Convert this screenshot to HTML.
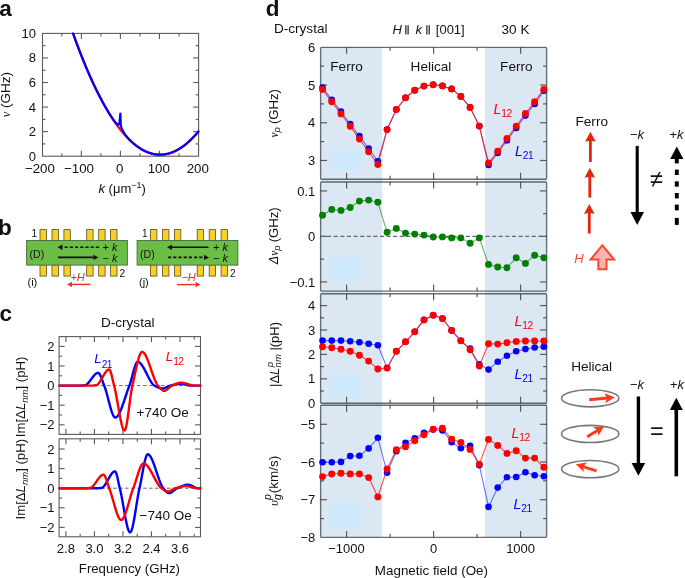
<!DOCTYPE html>
<html><head><meta charset="utf-8"><style>
html,body{margin:0;padding:0;background:#fff;}
svg{display:block;will-change:transform;font-family:"Liberation Sans", sans-serif;}
</style></head><body>
<svg width="685" height="578" viewBox="0 0 685 578">
<rect width="685" height="578" fill="#fff"/>
<text x="-0.8" y="16" font-size="22.5" text-anchor="start" fill="#111" font-weight="bold">a</text>
<text x="-1.9" y="235" font-size="22.5" text-anchor="start" fill="#111" font-weight="bold">b</text>
<text x="-0.5" y="321" font-size="22.5" text-anchor="start" fill="#111" font-weight="bold">c</text>
<text x="265.8" y="16" font-size="22.5" text-anchor="start" fill="#111" font-weight="bold">d</text>
<rect x="42.5" y="33.4" width="156.1" height="122.8" fill="none" stroke="#5a5a5a" stroke-width="1.1" />
<line x1="61.83" y1="156.2" x2="61.83" y2="153.2" stroke="#5a5a5a" stroke-width="1.1" />
<line x1="61.83" y1="33.4" x2="61.83" y2="36.4" stroke="#5a5a5a" stroke-width="1.1" />
<line x1="81.35" y1="156.2" x2="81.35" y2="150.7" stroke="#5a5a5a" stroke-width="1.1" />
<line x1="81.35" y1="33.4" x2="81.35" y2="38.9" stroke="#5a5a5a" stroke-width="1.1" />
<line x1="100.88" y1="156.2" x2="100.88" y2="153.2" stroke="#5a5a5a" stroke-width="1.1" />
<line x1="100.88" y1="33.4" x2="100.88" y2="36.4" stroke="#5a5a5a" stroke-width="1.1" />
<line x1="120.4" y1="156.2" x2="120.4" y2="150.7" stroke="#5a5a5a" stroke-width="1.1" />
<line x1="120.4" y1="33.4" x2="120.4" y2="38.9" stroke="#5a5a5a" stroke-width="1.1" />
<line x1="139.93" y1="156.2" x2="139.93" y2="153.2" stroke="#5a5a5a" stroke-width="1.1" />
<line x1="139.93" y1="33.4" x2="139.93" y2="36.4" stroke="#5a5a5a" stroke-width="1.1" />
<line x1="159.45" y1="156.2" x2="159.45" y2="150.7" stroke="#5a5a5a" stroke-width="1.1" />
<line x1="159.45" y1="33.4" x2="159.45" y2="38.9" stroke="#5a5a5a" stroke-width="1.1" />
<line x1="178.98" y1="156.2" x2="178.98" y2="153.2" stroke="#5a5a5a" stroke-width="1.1" />
<line x1="178.98" y1="33.4" x2="178.98" y2="36.4" stroke="#5a5a5a" stroke-width="1.1" />
<line x1="42.5" y1="143.92" x2="45.5" y2="143.92" stroke="#5a5a5a" stroke-width="1.1" />
<line x1="198.6" y1="143.92" x2="195.6" y2="143.92" stroke="#5a5a5a" stroke-width="1.1" />
<line x1="42.5" y1="131.64" x2="48" y2="131.64" stroke="#5a5a5a" stroke-width="1.1" />
<line x1="198.6" y1="131.64" x2="193.1" y2="131.64" stroke="#5a5a5a" stroke-width="1.1" />
<line x1="42.5" y1="119.36" x2="45.5" y2="119.36" stroke="#5a5a5a" stroke-width="1.1" />
<line x1="198.6" y1="119.36" x2="195.6" y2="119.36" stroke="#5a5a5a" stroke-width="1.1" />
<line x1="42.5" y1="107.08" x2="48" y2="107.08" stroke="#5a5a5a" stroke-width="1.1" />
<line x1="198.6" y1="107.08" x2="193.1" y2="107.08" stroke="#5a5a5a" stroke-width="1.1" />
<line x1="42.5" y1="94.8" x2="45.5" y2="94.8" stroke="#5a5a5a" stroke-width="1.1" />
<line x1="198.6" y1="94.8" x2="195.6" y2="94.8" stroke="#5a5a5a" stroke-width="1.1" />
<line x1="42.5" y1="82.52" x2="48" y2="82.52" stroke="#5a5a5a" stroke-width="1.1" />
<line x1="198.6" y1="82.52" x2="193.1" y2="82.52" stroke="#5a5a5a" stroke-width="1.1" />
<line x1="42.5" y1="70.24" x2="45.5" y2="70.24" stroke="#5a5a5a" stroke-width="1.1" />
<line x1="198.6" y1="70.24" x2="195.6" y2="70.24" stroke="#5a5a5a" stroke-width="1.1" />
<line x1="42.5" y1="57.96" x2="48" y2="57.96" stroke="#5a5a5a" stroke-width="1.1" />
<line x1="198.6" y1="57.96" x2="193.1" y2="57.96" stroke="#5a5a5a" stroke-width="1.1" />
<line x1="42.5" y1="45.68" x2="45.5" y2="45.68" stroke="#5a5a5a" stroke-width="1.1" />
<line x1="198.6" y1="45.68" x2="195.6" y2="45.68" stroke="#5a5a5a" stroke-width="1.1" />
<text x="36" y="160.7" font-size="13" text-anchor="end" fill="#111" >0</text>
<text x="36" y="136.14" font-size="13" text-anchor="end" fill="#111" >2</text>
<text x="36" y="111.58" font-size="13" text-anchor="end" fill="#111" >4</text>
<text x="36" y="87.02" font-size="13" text-anchor="end" fill="#111" >6</text>
<text x="36" y="62.46" font-size="13" text-anchor="end" fill="#111" >8</text>
<text x="36" y="37.9" font-size="13" text-anchor="end" fill="#111" >10</text>
<text x="39.9" y="173" font-size="13.3" text-anchor="middle" fill="#111" >&#8722;200</text>
<text x="78.95" y="173" font-size="13.3" text-anchor="middle" fill="#111" >&#8722;100</text>
<text x="119.7" y="173" font-size="13.3" text-anchor="middle" fill="#111" >0</text>
<text x="158.75" y="173" font-size="13.3" text-anchor="middle" fill="#111" >100</text>
<text x="197.8" y="173" font-size="13.3" text-anchor="middle" fill="#111" >200</text>
<text x="98.5" y="192.6" font-size="13" fill="#111"><tspan font-style="italic">k</tspan> (&#956;m<tspan font-size="9" dy="-5">&#8722;1</tspan><tspan dy="5">)</tspan></text>
<text transform="translate(9.6,94.6) rotate(-90)" font-size="13.5" fill="#111" text-anchor="middle"><tspan font-family="Liberation Serif" font-style="italic" font-size="12.5">&#957;</tspan> (GHz)</text>
<path d="M73.1,33.56 L73.52,34.74 L73.94,35.9 L74.36,37.06 L74.78,38.21 L75.2,39.36 L75.61,40.5 L76.03,41.64 L76.45,42.77 L76.87,43.89 L77.29,45.01 L77.71,46.13 L78.13,47.23 L78.55,48.34 L78.97,49.43 L79.39,50.52 L79.81,51.61 L80.22,52.69 L80.64,53.76 L81.06,54.83 L81.48,55.89 L81.9,56.95 L82.32,58 L82.74,59.04 L83.16,60.08 L83.58,61.11 L84,62.14 L84.41,63.16 L84.83,64.18 L85.25,65.19 L85.67,66.19 L86.09,67.19 L86.51,68.18 L86.93,69.17 L87.35,70.15 L87.77,71.13 L88.19,72.1 L88.61,73.06 L89.02,74.02 L89.44,74.98 L89.86,75.92 L90.28,76.86 L90.7,77.8 L91.12,78.73 L91.54,79.66 L91.96,80.57 L92.38,81.49 L92.8,82.39 L93.22,83.3 L93.63,84.19 L94.05,85.08 L94.47,85.97 L94.89,86.85 L95.31,87.72 L95.73,88.59 L96.15,89.45 L96.57,90.3 L96.99,91.16 L97.41,92 L97.82,92.84 L98.24,93.67 L98.66,94.5 L99.08,95.32 L99.5,96.14 L99.92,96.95 L100.34,97.75 L100.76,98.55 L101.18,99.35 L101.6,100.13 L102.02,100.92 L102.43,101.69 L102.85,102.46 L103.27,103.23 L103.69,103.99 L104.11,104.74 L104.53,105.49 L104.95,106.23 L105.37,106.97 L105.79,107.7 L106.21,108.42 L106.63,109.14 L107.04,109.86 L107.46,110.57 L107.88,111.27 L108.3,111.97 L108.72,112.66 L109.14,113.34 L109.56,114.02 L109.98,114.7 L110.4,115.36 L110.82,116.03 L111.23,116.68 L111.65,117.34 L112.07,117.98 L112.49,118.62 L112.91,119.26 L113.33,119.89 L113.75,120.51 L114.17,121.13 L114.59,121.74 L115.01,122.34 L115.43,122.95 L115.84,123.54 L116.26,124.13 L116.68,124.71 L117.1,125.29 L117.52,125.86 L117.94,126.43 L118.36,126.99 L118.78,127.55 L119.2,128.1 L119.62,128.64 L120.04,129.18 L120.45,129.71 L120.87,130.24 L121.29,130.76 L121.71,131.28 L122.13,131.79 L122.55,132.29 L122.97,132.79 L123.39,133.28 L123.81,133.77 L124.23,134.25 L124.64,134.73 L125.06,135.2 L125.48,135.66 L125.9,136.12 L126.32,136.58 L126.74,137.02 L127.16,137.47 L127.58,137.9 L128,138.33 L128.42,138.76 L128.84,139.18 L129.25,139.59 L129.67,140 L130.09,140.41 L130.51,140.8 L130.93,141.2 L131.35,141.58 L131.77,141.96 L132.19,142.34 L132.61,142.71 L133.03,143.07 L133.45,143.43 L133.86,143.78 L134.28,144.13 L134.7,144.47 L135.12,144.8 L135.54,145.13 L135.96,145.46 L136.38,145.78 L136.8,146.09 L137.22,146.4 L137.64,146.7 L138.05,147 L138.47,147.29 L138.89,147.57 L139.31,147.85 L139.73,148.12 L140.15,148.39 L140.57,148.65 L140.99,148.91 L141.41,149.16 L141.83,149.41 L142.25,149.65 L142.66,149.88 L143.08,150.11 L143.5,150.34 L143.92,150.55 L144.34,150.77 L144.76,150.97 L145.18,151.17 L145.6,151.37 L146.02,151.56 L146.44,151.74 L146.86,151.92 L147.27,152.09 L147.69,152.26 L148.11,152.42 L148.53,152.58 L148.95,152.73 L149.37,152.87 L149.79,153.01 L150.21,153.15 L150.63,153.28 L151.05,153.4 L151.46,153.51 L151.88,153.63 L152.3,153.73 L152.72,153.83 L153.14,153.93 L153.56,154.02 L153.98,154.1 L154.4,154.18 L154.82,154.25 L155.24,154.32 L155.66,154.38 L156.07,154.43 L156.49,154.48 L156.91,154.53 L157.33,154.57 L157.75,154.6 L158.17,154.63 L158.59,154.65 L159.01,154.67 L159.43,154.68 L159.85,154.68 L160.27,154.68 L160.68,154.68 L161.1,154.67 L161.52,154.65 L161.94,154.63 L162.36,154.6 L162.78,154.57 L163.2,154.53 L163.62,154.48 L164.04,154.43 L164.46,154.38 L164.87,154.31 L165.29,154.25 L165.71,154.18 L166.13,154.1 L166.55,154.01 L166.97,153.92 L167.39,153.83 L167.81,153.73 L168.23,153.62 L168.65,153.51 L169.07,153.4 L169.48,153.27 L169.9,153.15 L170.32,153.01 L170.74,152.87 L171.16,152.73 L171.58,152.58 L172,152.42 L172.42,152.26 L172.84,152.1 L173.26,151.92 L173.68,151.74 L174.09,151.56 L174.51,151.37 L174.93,151.18 L175.35,150.98 L175.77,150.77 L176.19,150.56 L176.61,150.34 L177.03,150.12 L177.45,149.9 L177.87,149.66 L178.28,149.42 L178.7,149.18 L179.12,148.93 L179.54,148.67 L179.96,148.41 L180.38,148.15 L180.8,147.87 L181.22,147.6 L181.64,147.31 L182.06,147.03 L182.48,146.73 L182.89,146.43 L183.31,146.13 L183.73,145.82 L184.15,145.5 L184.57,145.18 L184.99,144.85 L185.41,144.52 L185.83,144.18 L186.25,143.84 L186.67,143.49 L187.09,143.13 L187.5,142.77 L187.92,142.41 L188.34,142.04 L188.76,141.66 L189.18,141.28 L189.6,140.89 L190.02,140.5 L190.44,140.1 L190.86,139.69 L191.28,139.28 L191.69,138.87 L192.11,138.45 L192.53,138.02 L192.95,137.59 L193.37,137.15 L193.79,136.71 L194.21,136.26 L194.63,135.81 L195.05,135.35 L195.47,134.88 L195.89,134.41 L196.3,133.94 L196.72,133.45 L197.14,132.97 L197.56,132.48 L197.98,131.98 L198.4,131.47" fill="none" stroke="#ff0000" stroke-width="2.25" stroke-linejoin="round" stroke-linecap="round" />
<path d="M73.1,33.56 L73.33,34.2 L73.55,34.83 L73.78,35.47 L74.01,36.1 L74.24,36.72 L74.46,37.35 L74.69,37.98 L74.92,38.6 L75.14,39.22 L75.37,39.84 L75.6,40.46 L75.83,41.08 L76.05,41.69 L76.28,42.3 L76.51,42.92 L76.73,43.53 L76.96,44.13 L77.19,44.74 L77.42,45.35 L77.64,45.95 L77.87,46.55 L78.1,47.15 L78.32,47.75 L78.55,48.35 L78.78,48.94 L79.01,49.53 L79.23,50.13 L79.46,50.71 L79.69,51.3 L79.91,51.89 L80.14,52.47 L80.37,53.06 L80.6,53.64 L80.82,54.22 L81.05,54.8 L81.28,55.37 L81.5,55.95 L81.73,56.52 L81.96,57.09 L82.19,57.66 L82.41,58.23 L82.64,58.79 L82.87,59.36 L83.09,59.92 L83.32,60.48 L83.55,61.04 L83.78,61.6 L84,62.16 L84.23,62.71 L84.46,63.26 L84.68,63.81 L84.91,64.36 L85.14,64.91 L85.37,65.46 L85.59,66 L85.82,66.54 L86.05,67.09 L86.27,67.63 L86.5,68.16 L86.73,68.7 L86.96,69.23 L87.18,69.77 L87.41,70.3 L87.64,70.83 L87.86,71.35 L88.09,71.88 L88.32,72.4 L88.55,72.93 L88.77,73.45 L89,73.97 L89.23,74.48 L89.45,75 L89.68,75.51 L89.91,76.03 L90.14,76.54 L90.36,77.05 L90.59,77.55 L90.82,78.06 L91.04,78.56 L91.27,79.06 L91.5,79.57 L91.73,80.06 L91.95,80.56 L92.18,81.06 L92.41,81.55 L92.63,82.04 L92.86,82.53 L93.09,83.02 L93.32,83.51 L93.54,84 L93.77,84.48 L94,84.96 L94.22,85.44 L94.45,85.92 L94.68,86.4 L94.91,86.87 L95.13,87.35 L95.36,87.82 L95.59,88.29 L95.81,88.76 L96.04,89.23 L96.27,89.69 L96.49,90.16 L96.72,90.62 L96.95,91.08 L97.18,91.54 L97.4,92 L97.63,92.45 L97.86,92.9 L98.08,93.36 L98.31,93.81 L98.54,94.26 L98.77,94.7 L98.99,95.15 L99.22,95.59 L99.45,96.03 L99.67,96.47 L99.9,96.91 L100.13,97.35 L100.36,97.79 L100.58,98.22 L100.81,98.65 L101.04,99.08 L101.26,99.51 L101.49,99.94 L101.72,100.36 L101.95,100.79 L102.17,101.21 L102.4,101.63 L102.63,102.05 L102.85,102.46 L103.08,102.88 L103.31,103.29 L103.54,103.7 L103.76,104.11 L103.99,104.52 L104.22,104.93 L104.44,105.33 L104.67,105.74 L104.9,106.14 L105.13,106.54 L105.35,106.94 L105.58,107.33 L105.81,107.73 L106.03,108.12 L106.26,108.51 L106.49,108.9 L106.72,109.29 L106.94,109.67 L107.17,110.06 L107.4,110.44 L107.62,110.82 L107.85,111.2 L108.08,111.57 L108.31,111.95 L108.53,112.32 L108.76,112.69 L108.99,113.06 L109.21,113.43 L109.44,113.79 L109.67,114.15 L109.9,114.51 L110.12,114.87 L110.35,115.23 L110.58,115.58 L110.8,115.93 L111.03,116.28 L111.26,116.62 L111.49,116.97 L111.71,117.31 L111.94,117.65 L112.17,117.98 L112.39,118.31 L112.62,118.64 L112.85,118.96 L113.08,119.28 L113.3,119.6 L113.53,119.91 L113.76,120.22 L113.98,120.52 L114.21,120.82 L114.44,121.11 L114.67,121.39 L114.89,121.67 L115.12,121.94 L115.35,122.21 L115.57,122.46 L115.8,122.71 L116.03,122.95 L116.26,123.17 L116.48,123.39 L116.71,123.59 L116.94,123.77 L117.16,123.94 L117.39,124.1 L117.62,124.24 L117.85,124.35 L118.07,124.44 L118.3,124.51 L119.4,123.6 L120,118.5 L120.35,113.6 L120.5,118.5 L120.7,123 L120.9,125.85 L121.21,126.76 L121.52,127.6 L121.83,128.38 L122.14,129.12 L122.46,129.81 L122.77,130.46 L123.08,131.07 L123.39,131.65 L123.7,132.21 L124.01,132.73 L124.32,133.24 L124.63,133.72 L124.95,134.19 L125.26,134.64 L125.57,135.07 L125.88,135.5 L126.19,135.9 L126.5,136.3 L126.81,136.69 L127.12,137.06 L127.44,137.43 L127.75,137.79 L128.06,138.15 L128.37,138.49 L128.68,138.83 L128.99,139.16 L129.3,139.49 L129.61,139.81 L129.93,140.13 L130.24,140.44 L130.55,140.75 L130.86,141.05 L131.17,141.34 L131.48,141.64 L131.79,141.93 L132.1,142.21 L132.42,142.49 L132.73,142.77 L133.04,143.05 L133.35,143.32 L133.66,143.58 L133.97,143.85 L134.28,144.11 L134.59,144.36 L134.91,144.62 L135.22,144.87 L135.53,145.11 L135.84,145.35 L136.15,145.59 L136.46,145.83 L136.77,146.06 L137.08,146.29 L137.4,146.52 L137.71,146.74 L138.02,146.96 L138.33,147.18 L138.64,147.4 L138.95,147.61 L139.26,147.82 L139.57,148.02 L139.89,148.22 L140.2,148.42 L140.51,148.62 L140.82,148.81 L141.13,149 L141.44,149.18 L141.75,149.37 L142.06,149.54 L142.38,149.72 L142.69,149.89 L143,150.07 L143.31,150.23 L143.62,150.4 L143.93,150.56 L144.24,150.72 L144.55,150.87 L144.87,151.02 L145.18,151.17 L145.49,151.32 L145.8,151.46 L146.11,151.6 L146.42,151.74 L146.73,151.87 L147.04,152 L147.36,152.13 L147.67,152.25 L147.98,152.37 L148.29,152.49 L148.6,152.6 L148.91,152.72 L149.22,152.82 L149.53,152.93 L149.85,153.03 L150.16,153.13 L150.47,153.23 L150.78,153.32 L151.09,153.41 L151.4,153.5 L151.71,153.58 L152.02,153.66 L152.34,153.74 L152.65,153.81 L152.96,153.89 L153.27,153.95 L153.58,154.02 L153.89,154.08 L154.2,154.14 L154.51,154.2 L154.83,154.25 L155.14,154.3 L155.45,154.35 L155.76,154.39 L156.07,154.43 L156.38,154.47 L156.69,154.51 L157,154.54 L157.32,154.57 L157.63,154.59 L157.94,154.61 L158.25,154.63 L158.56,154.65 L158.87,154.66 L159.18,154.67 L159.49,154.68 L159.81,154.68 L160.12,154.68 L160.43,154.68 L160.74,154.68 L161.05,154.67 L161.36,154.66 L161.67,154.64 L161.98,154.62 L162.3,154.6 L162.61,154.58 L162.92,154.55 L163.23,154.52 L163.54,154.49 L163.85,154.45 L164.16,154.42 L164.47,154.37 L164.79,154.33 L165.1,154.28 L165.41,154.23 L165.72,154.17 L166.03,154.12 L166.34,154.06 L166.65,153.99 L166.96,153.93 L167.28,153.86 L167.59,153.78 L167.9,153.71 L168.21,153.63 L168.52,153.55 L168.83,153.46 L169.14,153.37 L169.45,153.28 L169.77,153.19 L170.08,153.09 L170.39,152.99 L170.7,152.89 L171.01,152.78 L171.32,152.67 L171.63,152.56 L171.94,152.44 L172.26,152.33 L172.57,152.2 L172.88,152.08 L173.19,151.95 L173.5,151.82 L173.81,151.69 L174.12,151.55 L174.43,151.41 L174.75,151.27 L175.06,151.12 L175.37,150.97 L175.68,150.82 L175.99,150.66 L176.3,150.5 L176.61,150.34 L176.92,150.18 L177.24,150.01 L177.55,149.84 L177.86,149.67 L178.17,149.49 L178.48,149.31 L178.79,149.13 L179.1,148.94 L179.41,148.75 L179.73,148.56 L180.04,148.37 L180.35,148.17 L180.66,147.97 L180.97,147.76 L181.28,147.55 L181.59,147.34 L181.9,147.13 L182.22,146.91 L182.53,146.7 L182.84,146.47 L183.15,146.25 L183.46,146.02 L183.77,145.79 L184.08,145.55 L184.39,145.32 L184.71,145.07 L185.02,144.83 L185.33,144.58 L185.64,144.33 L185.95,144.08 L186.26,143.83 L186.57,143.57 L186.88,143.3 L187.2,143.04 L187.51,142.77 L187.82,142.5 L188.13,142.23 L188.44,141.95 L188.75,141.67 L189.06,141.38 L189.37,141.1 L189.69,140.81 L190,140.52 L190.31,140.22 L190.62,139.92 L190.93,139.62 L191.24,139.32 L191.55,139.01 L191.86,138.7 L192.18,138.38 L192.49,138.07 L192.8,137.75 L193.11,137.43 L193.42,137.1 L193.73,136.77 L194.04,136.44 L194.35,136.1 L194.67,135.77 L194.98,135.43 L195.29,135.08 L195.6,134.73 L195.91,134.38 L196.22,134.03 L196.53,133.67 L196.84,133.32 L197.16,132.95 L197.47,132.59 L197.78,132.22 L198.09,131.85 L198.4,131.47" fill="none" stroke="#0000ff" stroke-width="2.25" stroke-linejoin="round" stroke-linecap="round" />
<rect x="40" y="229.6" width="6.4" height="11" fill="#f6d024" stroke="#5a4a20" stroke-width="0.8" />
<rect x="40" y="264.9" width="6.4" height="11.2" fill="#f6d024" stroke="#5a4a20" stroke-width="0.8" />
<rect x="52" y="229.6" width="6.4" height="11" fill="#f6d024" stroke="#5a4a20" stroke-width="0.8" />
<rect x="52" y="264.9" width="6.4" height="11.2" fill="#f6d024" stroke="#5a4a20" stroke-width="0.8" />
<rect x="63.9" y="229.6" width="6.4" height="11" fill="#f6d024" stroke="#5a4a20" stroke-width="0.8" />
<rect x="63.9" y="264.9" width="6.4" height="11.2" fill="#f6d024" stroke="#5a4a20" stroke-width="0.8" />
<rect x="86.7" y="229.6" width="6.4" height="11" fill="#f6d024" stroke="#5a4a20" stroke-width="0.8" />
<rect x="86.7" y="264.9" width="6.4" height="11.2" fill="#f6d024" stroke="#5a4a20" stroke-width="0.8" />
<rect x="98.7" y="229.6" width="6.4" height="11" fill="#f6d024" stroke="#5a4a20" stroke-width="0.8" />
<rect x="98.7" y="264.9" width="6.4" height="11.2" fill="#f6d024" stroke="#5a4a20" stroke-width="0.8" />
<rect x="110.6" y="229.6" width="6.4" height="11" fill="#f6d024" stroke="#5a4a20" stroke-width="0.8" />
<rect x="110.6" y="264.9" width="6.4" height="11.2" fill="#f6d024" stroke="#5a4a20" stroke-width="0.8" />
<rect x="26.6" y="240.5" width="100.8" height="24.6" fill="#6bbd45" stroke="#4a6a40" stroke-width="0.9" />
<text x="29.6" y="257.6" font-size="10.6" text-anchor="start" fill="#111" >(D)</text>
<text x="31.6" y="237.2" font-size="10" text-anchor="start" fill="#111" >1</text>
<text x="119.5" y="277" font-size="10" text-anchor="start" fill="#111" >2</text>
<rect x="150.5" y="229.6" width="6.4" height="11" fill="#f6d024" stroke="#5a4a20" stroke-width="0.8" />
<rect x="150.5" y="264.9" width="6.4" height="11.2" fill="#f6d024" stroke="#5a4a20" stroke-width="0.8" />
<rect x="162.5" y="229.6" width="6.4" height="11" fill="#f6d024" stroke="#5a4a20" stroke-width="0.8" />
<rect x="162.5" y="264.9" width="6.4" height="11.2" fill="#f6d024" stroke="#5a4a20" stroke-width="0.8" />
<rect x="174.4" y="229.6" width="6.4" height="11" fill="#f6d024" stroke="#5a4a20" stroke-width="0.8" />
<rect x="174.4" y="264.9" width="6.4" height="11.2" fill="#f6d024" stroke="#5a4a20" stroke-width="0.8" />
<rect x="197.2" y="229.6" width="6.4" height="11" fill="#f6d024" stroke="#5a4a20" stroke-width="0.8" />
<rect x="197.2" y="264.9" width="6.4" height="11.2" fill="#f6d024" stroke="#5a4a20" stroke-width="0.8" />
<rect x="209.2" y="229.6" width="6.4" height="11" fill="#f6d024" stroke="#5a4a20" stroke-width="0.8" />
<rect x="209.2" y="264.9" width="6.4" height="11.2" fill="#f6d024" stroke="#5a4a20" stroke-width="0.8" />
<rect x="221.1" y="229.6" width="6.4" height="11" fill="#f6d024" stroke="#5a4a20" stroke-width="0.8" />
<rect x="221.1" y="264.9" width="6.4" height="11.2" fill="#f6d024" stroke="#5a4a20" stroke-width="0.8" />
<rect x="137.1" y="240.5" width="100.8" height="24.6" fill="#6bbd45" stroke="#4a6a40" stroke-width="0.9" />
<text x="140.1" y="257.6" font-size="10.6" text-anchor="start" fill="#111" >(D)</text>
<text x="142.1" y="237.2" font-size="10" text-anchor="start" fill="#111" >1</text>
<text x="230" y="277" font-size="10" text-anchor="start" fill="#111" >2</text>
<line x1="99" y1="247.3" x2="62.5" y2="247.3" stroke="#111" stroke-width="1.6" stroke-dasharray="3.2,2"/>
<path d="M57.5,247.3 L62.5,244.6 L62.5,250 Z" fill="#111"/>
<line x1="58" y1="257.4" x2="93.5" y2="257.4" stroke="#111" stroke-width="1.6" />
<path d="M98.5,257.4 L93.5,254.7 L93.5,260.1 Z" fill="#111"/>
<line x1="208.5" y1="247.3" x2="172" y2="247.3" stroke="#111" stroke-width="1.6" />
<path d="M167,247.3 L172,244.6 L172,250 Z" fill="#111"/>
<line x1="168" y1="257.4" x2="204" y2="257.4" stroke="#111" stroke-width="1.6" stroke-dasharray="3.2,2"/>
<path d="M209,257.4 L204,254.7 L204,260.1 Z" fill="#111"/>
<text x="102.6" y="251.3" font-size="11" fill="#111">+ <tspan font-style="italic">k</tspan></text>
<text x="102.6" y="261.5" font-size="11" fill="#111">&#8722; <tspan font-style="italic">k</tspan></text>
<text x="213.1" y="251.3" font-size="11" fill="#111">+ <tspan font-style="italic">k</tspan></text>
<text x="213.1" y="261.5" font-size="11" fill="#111">&#8722; <tspan font-style="italic">k</tspan></text>
<text x="27.5" y="285.5" font-size="11" text-anchor="start" fill="#111" >(i)</text>
<text x="139" y="285.5" font-size="11" text-anchor="start" fill="#111" >(j)</text>
<text x="70.4" y="281.4" font-size="11" fill="#d42a36" font-style="italic">+H</text>
<text x="181.4" y="281.4" font-size="11" fill="#d42a36" font-style="italic">&#8722;H</text>
<line x1="90.5" y1="284.4" x2="72" y2="284.4" stroke="#e0321e" stroke-width="1.4" />
<path d="M67,284.4 L72,281.8 L72,287 Z" fill="#e0321e"/>
<line x1="177" y1="284.6" x2="195.5" y2="284.6" stroke="#e0321e" stroke-width="1.4" />
<path d="M200.5,284.6 L195.5,282 L195.5,287.2 Z" fill="#e0321e"/>
<text x="100.9" y="326.5" font-size="13.6" text-anchor="start" fill="#111" >D-crystal</text>
<rect x="59.1" y="336.6" width="141.4" height="97.8" fill="none" stroke="#5a5a5a" stroke-width="1.1" />
<line x1="59.1" y1="385.6" x2="200.5" y2="385.6" stroke="#666" stroke-width="1" stroke-dasharray="3.5,2.5"/>
<line x1="59.1" y1="424.8" x2="64.6" y2="424.8" stroke="#5a5a5a" stroke-width="1.1" />
<line x1="200.5" y1="424.8" x2="195" y2="424.8" stroke="#5a5a5a" stroke-width="1.1" />
<line x1="59.1" y1="415" x2="62.1" y2="415" stroke="#5a5a5a" stroke-width="1.1" />
<line x1="200.5" y1="415" x2="197.5" y2="415" stroke="#5a5a5a" stroke-width="1.1" />
<line x1="59.1" y1="405.2" x2="64.6" y2="405.2" stroke="#5a5a5a" stroke-width="1.1" />
<line x1="200.5" y1="405.2" x2="195" y2="405.2" stroke="#5a5a5a" stroke-width="1.1" />
<line x1="59.1" y1="395.4" x2="62.1" y2="395.4" stroke="#5a5a5a" stroke-width="1.1" />
<line x1="200.5" y1="395.4" x2="197.5" y2="395.4" stroke="#5a5a5a" stroke-width="1.1" />
<line x1="59.1" y1="385.6" x2="64.6" y2="385.6" stroke="#5a5a5a" stroke-width="1.1" />
<line x1="200.5" y1="385.6" x2="195" y2="385.6" stroke="#5a5a5a" stroke-width="1.1" />
<line x1="59.1" y1="375.8" x2="62.1" y2="375.8" stroke="#5a5a5a" stroke-width="1.1" />
<line x1="200.5" y1="375.8" x2="197.5" y2="375.8" stroke="#5a5a5a" stroke-width="1.1" />
<line x1="59.1" y1="366" x2="64.6" y2="366" stroke="#5a5a5a" stroke-width="1.1" />
<line x1="200.5" y1="366" x2="195" y2="366" stroke="#5a5a5a" stroke-width="1.1" />
<line x1="59.1" y1="356.2" x2="62.1" y2="356.2" stroke="#5a5a5a" stroke-width="1.1" />
<line x1="200.5" y1="356.2" x2="197.5" y2="356.2" stroke="#5a5a5a" stroke-width="1.1" />
<line x1="59.1" y1="346.4" x2="64.6" y2="346.4" stroke="#5a5a5a" stroke-width="1.1" />
<line x1="200.5" y1="346.4" x2="195" y2="346.4" stroke="#5a5a5a" stroke-width="1.1" />
<text x="54.6" y="350.9" font-size="13" text-anchor="end" fill="#111" >2</text>
<text x="54.6" y="370.5" font-size="13" text-anchor="end" fill="#111" >1</text>
<text x="54.6" y="390.1" font-size="13" text-anchor="end" fill="#111" >0</text>
<text x="54.6" y="409.7" font-size="13" text-anchor="end" fill="#111" >&#8722;1</text>
<text x="54.6" y="429.3" font-size="13" text-anchor="end" fill="#111" >&#8722;2</text>
<line x1="65.9" y1="434.4" x2="65.9" y2="428.9" stroke="#5a5a5a" stroke-width="1.1" />
<line x1="65.9" y1="336.6" x2="65.9" y2="342.1" stroke="#5a5a5a" stroke-width="1.1" />
<line x1="80.16" y1="434.4" x2="80.16" y2="431.4" stroke="#5a5a5a" stroke-width="1.1" />
<line x1="80.16" y1="336.6" x2="80.16" y2="339.6" stroke="#5a5a5a" stroke-width="1.1" />
<line x1="94.42" y1="434.4" x2="94.42" y2="428.9" stroke="#5a5a5a" stroke-width="1.1" />
<line x1="94.42" y1="336.6" x2="94.42" y2="342.1" stroke="#5a5a5a" stroke-width="1.1" />
<line x1="108.68" y1="434.4" x2="108.68" y2="431.4" stroke="#5a5a5a" stroke-width="1.1" />
<line x1="108.68" y1="336.6" x2="108.68" y2="339.6" stroke="#5a5a5a" stroke-width="1.1" />
<line x1="122.94" y1="434.4" x2="122.94" y2="428.9" stroke="#5a5a5a" stroke-width="1.1" />
<line x1="122.94" y1="336.6" x2="122.94" y2="342.1" stroke="#5a5a5a" stroke-width="1.1" />
<line x1="137.2" y1="434.4" x2="137.2" y2="431.4" stroke="#5a5a5a" stroke-width="1.1" />
<line x1="137.2" y1="336.6" x2="137.2" y2="339.6" stroke="#5a5a5a" stroke-width="1.1" />
<line x1="151.46" y1="434.4" x2="151.46" y2="428.9" stroke="#5a5a5a" stroke-width="1.1" />
<line x1="151.46" y1="336.6" x2="151.46" y2="342.1" stroke="#5a5a5a" stroke-width="1.1" />
<line x1="165.72" y1="434.4" x2="165.72" y2="431.4" stroke="#5a5a5a" stroke-width="1.1" />
<line x1="165.72" y1="336.6" x2="165.72" y2="339.6" stroke="#5a5a5a" stroke-width="1.1" />
<line x1="179.98" y1="434.4" x2="179.98" y2="428.9" stroke="#5a5a5a" stroke-width="1.1" />
<line x1="179.98" y1="336.6" x2="179.98" y2="342.1" stroke="#5a5a5a" stroke-width="1.1" />
<line x1="194.24" y1="434.4" x2="194.24" y2="431.4" stroke="#5a5a5a" stroke-width="1.1" />
<line x1="194.24" y1="336.6" x2="194.24" y2="339.6" stroke="#5a5a5a" stroke-width="1.1" />
<text x="136.6" y="417.1" font-size="13.5" text-anchor="start" fill="#111" >+740 Oe</text>
<rect x="59.1" y="438.8" width="141.4" height="98" fill="none" stroke="#5a5a5a" stroke-width="1.1" />
<line x1="59.1" y1="488.2" x2="200.5" y2="488.2" stroke="#666" stroke-width="1" stroke-dasharray="3.5,2.5"/>
<line x1="59.1" y1="527.4" x2="64.6" y2="527.4" stroke="#5a5a5a" stroke-width="1.1" />
<line x1="200.5" y1="527.4" x2="195" y2="527.4" stroke="#5a5a5a" stroke-width="1.1" />
<line x1="59.1" y1="517.6" x2="62.1" y2="517.6" stroke="#5a5a5a" stroke-width="1.1" />
<line x1="200.5" y1="517.6" x2="197.5" y2="517.6" stroke="#5a5a5a" stroke-width="1.1" />
<line x1="59.1" y1="507.8" x2="64.6" y2="507.8" stroke="#5a5a5a" stroke-width="1.1" />
<line x1="200.5" y1="507.8" x2="195" y2="507.8" stroke="#5a5a5a" stroke-width="1.1" />
<line x1="59.1" y1="498" x2="62.1" y2="498" stroke="#5a5a5a" stroke-width="1.1" />
<line x1="200.5" y1="498" x2="197.5" y2="498" stroke="#5a5a5a" stroke-width="1.1" />
<line x1="59.1" y1="488.2" x2="64.6" y2="488.2" stroke="#5a5a5a" stroke-width="1.1" />
<line x1="200.5" y1="488.2" x2="195" y2="488.2" stroke="#5a5a5a" stroke-width="1.1" />
<line x1="59.1" y1="478.4" x2="62.1" y2="478.4" stroke="#5a5a5a" stroke-width="1.1" />
<line x1="200.5" y1="478.4" x2="197.5" y2="478.4" stroke="#5a5a5a" stroke-width="1.1" />
<line x1="59.1" y1="468.6" x2="64.6" y2="468.6" stroke="#5a5a5a" stroke-width="1.1" />
<line x1="200.5" y1="468.6" x2="195" y2="468.6" stroke="#5a5a5a" stroke-width="1.1" />
<line x1="59.1" y1="458.8" x2="62.1" y2="458.8" stroke="#5a5a5a" stroke-width="1.1" />
<line x1="200.5" y1="458.8" x2="197.5" y2="458.8" stroke="#5a5a5a" stroke-width="1.1" />
<line x1="59.1" y1="449" x2="64.6" y2="449" stroke="#5a5a5a" stroke-width="1.1" />
<line x1="200.5" y1="449" x2="195" y2="449" stroke="#5a5a5a" stroke-width="1.1" />
<text x="54.6" y="453.5" font-size="13" text-anchor="end" fill="#111" >2</text>
<text x="54.6" y="473.1" font-size="13" text-anchor="end" fill="#111" >1</text>
<text x="54.6" y="492.7" font-size="13" text-anchor="end" fill="#111" >0</text>
<text x="54.6" y="512.3" font-size="13" text-anchor="end" fill="#111" >&#8722;1</text>
<text x="54.6" y="531.9" font-size="13" text-anchor="end" fill="#111" >&#8722;2</text>
<line x1="65.9" y1="536.8" x2="65.9" y2="531.3" stroke="#5a5a5a" stroke-width="1.1" />
<line x1="65.9" y1="438.8" x2="65.9" y2="444.3" stroke="#5a5a5a" stroke-width="1.1" />
<line x1="80.16" y1="536.8" x2="80.16" y2="533.8" stroke="#5a5a5a" stroke-width="1.1" />
<line x1="80.16" y1="438.8" x2="80.16" y2="441.8" stroke="#5a5a5a" stroke-width="1.1" />
<line x1="94.42" y1="536.8" x2="94.42" y2="531.3" stroke="#5a5a5a" stroke-width="1.1" />
<line x1="94.42" y1="438.8" x2="94.42" y2="444.3" stroke="#5a5a5a" stroke-width="1.1" />
<line x1="108.68" y1="536.8" x2="108.68" y2="533.8" stroke="#5a5a5a" stroke-width="1.1" />
<line x1="108.68" y1="438.8" x2="108.68" y2="441.8" stroke="#5a5a5a" stroke-width="1.1" />
<line x1="122.94" y1="536.8" x2="122.94" y2="531.3" stroke="#5a5a5a" stroke-width="1.1" />
<line x1="122.94" y1="438.8" x2="122.94" y2="444.3" stroke="#5a5a5a" stroke-width="1.1" />
<line x1="137.2" y1="536.8" x2="137.2" y2="533.8" stroke="#5a5a5a" stroke-width="1.1" />
<line x1="137.2" y1="438.8" x2="137.2" y2="441.8" stroke="#5a5a5a" stroke-width="1.1" />
<line x1="151.46" y1="536.8" x2="151.46" y2="531.3" stroke="#5a5a5a" stroke-width="1.1" />
<line x1="151.46" y1="438.8" x2="151.46" y2="444.3" stroke="#5a5a5a" stroke-width="1.1" />
<line x1="165.72" y1="536.8" x2="165.72" y2="533.8" stroke="#5a5a5a" stroke-width="1.1" />
<line x1="165.72" y1="438.8" x2="165.72" y2="441.8" stroke="#5a5a5a" stroke-width="1.1" />
<line x1="179.98" y1="536.8" x2="179.98" y2="531.3" stroke="#5a5a5a" stroke-width="1.1" />
<line x1="179.98" y1="438.8" x2="179.98" y2="444.3" stroke="#5a5a5a" stroke-width="1.1" />
<line x1="194.24" y1="536.8" x2="194.24" y2="533.8" stroke="#5a5a5a" stroke-width="1.1" />
<line x1="194.24" y1="438.8" x2="194.24" y2="441.8" stroke="#5a5a5a" stroke-width="1.1" />
<text x="139.6" y="519.7" font-size="13.5" text-anchor="start" fill="#111" >&#8722;740 Oe</text>
<path d="M59.6,385.6 L59.88,385.6 L60.16,385.6 L60.45,385.6 L60.73,385.6 L61.01,385.6 L61.29,385.6 L61.57,385.6 L61.86,385.6 L62.14,385.6 L62.42,385.6 L62.7,385.6 L62.98,385.6 L63.27,385.6 L63.55,385.6 L63.83,385.6 L64.11,385.6 L64.39,385.6 L64.68,385.6 L64.96,385.6 L65.24,385.6 L65.52,385.6 L65.8,385.6 L66.09,385.6 L66.37,385.6 L66.65,385.6 L66.93,385.6 L67.21,385.6 L67.49,385.6 L67.78,385.6 L68.06,385.6 L68.34,385.6 L68.62,385.6 L68.9,385.6 L69.19,385.6 L69.47,385.6 L69.75,385.6 L70.03,385.6 L70.31,385.6 L70.6,385.6 L70.88,385.6 L71.16,385.6 L71.44,385.6 L71.72,385.6 L72.01,385.6 L72.29,385.6 L72.57,385.6 L72.85,385.6 L73.13,385.6 L73.42,385.6 L73.7,385.6 L73.98,385.6 L74.26,385.6 L74.54,385.6 L74.83,385.6 L75.11,385.6 L75.39,385.6 L75.67,385.6 L75.95,385.6 L76.24,385.6 L76.52,385.6 L76.8,385.6 L77.08,385.6 L77.36,385.6 L77.65,385.6 L77.93,385.6 L78.21,385.6 L78.49,385.6 L78.77,385.6 L79.06,385.6 L79.34,385.6 L79.62,385.6 L79.9,385.6 L80.18,385.6 L80.47,385.6 L80.75,385.59 L81.03,385.59 L81.31,385.58 L81.59,385.57 L81.88,385.56 L82.16,385.55 L82.44,385.53 L82.72,385.52 L83,385.5 L83.28,385.49 L83.57,385.47 L83.85,385.45 L84.13,385.43 L84.41,385.41 L84.69,385.38 L84.98,385.33 L85.26,385.24 L85.54,385.13 L85.82,385 L86.1,384.84 L86.39,384.65 L86.67,384.45 L86.95,384.22 L87.23,383.98 L87.51,383.72 L87.8,383.44 L88.08,383.14 L88.36,382.83 L88.64,382.51 L88.92,382.18 L89.21,381.83 L89.49,381.48 L89.77,381.12 L90.05,380.75 L90.33,380.38 L90.62,380 L90.9,379.62 L91.18,379.24 L91.46,378.86 L91.74,378.48 L92.03,378.1 L92.31,377.72 L92.59,377.35 L92.87,376.99 L93.15,376.63 L93.44,376.28 L93.72,375.94 L94,375.61 L94.28,375.29 L94.56,374.99 L94.85,374.7 L95.13,374.43 L95.41,374.18 L95.69,373.94 L95.97,373.72 L96.26,373.53 L96.54,373.36 L96.82,373.21 L97.1,373.08 L97.38,372.99 L97.67,372.91 L97.95,372.87 L98.23,372.86 L98.51,372.92 L98.79,373.08 L99.07,373.33 L99.36,373.66 L99.64,374.08 L99.92,374.56 L100.2,375.1 L100.48,375.7 L100.77,376.35 L101.05,377.04 L101.33,377.77 L101.61,378.52 L101.89,379.3 L102.18,380.09 L102.46,380.89 L102.74,381.69 L103.02,382.49 L103.3,383.27 L103.59,384.04 L103.87,384.77 L104.15,385.48 L104.43,386.18 L104.71,386.93 L105,387.72 L105.28,388.56 L105.56,389.44 L105.84,390.36 L106.12,391.31 L106.41,392.29 L106.69,393.3 L106.97,394.33 L107.25,395.38 L107.53,396.44 L107.82,397.52 L108.1,398.6 L108.38,399.69 L108.66,400.78 L108.94,401.86 L109.23,402.94 L109.51,404.01 L109.79,405.06 L110.07,406.1 L110.35,407.11 L110.64,408.1 L110.92,409.06 L111.2,409.99 L111.48,410.88 L111.76,411.73 L112.05,412.54 L112.33,413.3 L112.61,414.02 L112.89,414.67 L113.17,415.27 L113.46,415.81 L113.74,416.28 L114.02,416.68 L114.3,417.02 L114.58,417.27 L114.86,417.44 L115.15,417.53 L115.43,417.54 L115.71,417.5 L115.99,417.41 L116.27,417.27 L116.56,417.09 L116.84,416.87 L117.12,416.61 L117.4,416.31 L117.68,415.97 L117.97,415.6 L118.25,415.19 L118.53,414.74 L118.81,414.27 L119.09,413.76 L119.38,413.22 L119.66,412.65 L119.94,412.06 L120.22,411.44 L120.5,410.8 L120.79,410.13 L121.07,409.44 L121.35,408.73 L121.63,408 L121.91,407.26 L122.2,406.5 L122.48,405.72 L122.76,404.93 L123.04,404.12 L123.32,403.31 L123.61,402.48 L123.89,401.65 L124.17,400.81 L124.45,399.96 L124.73,399.11 L125.02,398.26 L125.3,397.4 L125.58,396.55 L125.86,395.69 L126.14,394.84 L126.43,393.99 L126.71,393.15 L126.99,392.31 L127.27,391.48 L127.55,390.66 L127.84,389.85 L128.12,389.05 L128.4,388.27 L128.68,387.49 L128.96,386.74 L129.25,386 L129.53,385.27 L129.81,384.49 L130.09,383.65 L130.37,382.76 L130.65,381.83 L130.94,380.86 L131.22,379.85 L131.5,378.82 L131.78,377.77 L132.06,376.7 L132.35,375.63 L132.63,374.55 L132.91,373.48 L133.19,372.41 L133.47,371.37 L133.76,370.35 L134.04,369.35 L134.32,368.4 L134.6,367.48 L134.88,366.61 L135.17,365.79 L135.45,365.04 L135.73,364.35 L136.01,363.73 L136.29,363.19 L136.58,362.73 L136.86,362.37 L137.14,362.1 L137.42,361.94 L137.7,361.88 L137.99,361.9 L138.27,361.95 L138.55,362.04 L138.83,362.15 L139.11,362.3 L139.4,362.48 L139.68,362.68 L139.96,362.91 L140.24,363.17 L140.52,363.45 L140.81,363.76 L141.09,364.09 L141.37,364.44 L141.65,364.81 L141.93,365.2 L142.22,365.61 L142.5,366.04 L142.78,366.49 L143.06,366.95 L143.34,367.42 L143.63,367.91 L143.91,368.41 L144.19,368.92 L144.47,369.44 L144.75,369.97 L145.04,370.51 L145.32,371.05 L145.6,371.6 L145.88,372.15 L146.16,372.71 L146.44,373.27 L146.73,373.83 L147.01,374.39 L147.29,374.95 L147.57,375.51 L147.85,376.07 L148.14,376.62 L148.42,377.16 L148.7,377.7 L148.98,378.24 L149.26,378.76 L149.55,379.27 L149.83,379.78 L150.11,380.27 L150.39,380.75 L150.67,381.21 L150.96,381.66 L151.24,382.1 L151.52,382.52 L151.8,382.92 L152.08,383.29 L152.37,383.65 L152.65,383.99 L152.93,384.31 L153.21,384.6 L153.49,384.87 L153.78,385.11 L154.06,385.32 L154.34,385.51 L154.62,385.67 L154.9,385.82 L155.19,385.98 L155.47,386.13 L155.75,386.28 L156.03,386.44 L156.31,386.59 L156.6,386.73 L156.88,386.88 L157.16,387.02 L157.44,387.16 L157.72,387.29 L158.01,387.42 L158.29,387.54 L158.57,387.66 L158.85,387.78 L159.13,387.88 L159.42,387.98 L159.7,388.08 L159.98,388.16 L160.26,388.24 L160.54,388.31 L160.83,388.37 L161.11,388.43 L161.39,388.47 L161.67,388.5 L161.95,388.53 L162.23,388.54 L162.52,388.54 L162.8,388.52 L163.08,388.49 L163.36,388.45 L163.64,388.39 L163.93,388.31 L164.21,388.23 L164.49,388.13 L164.77,388.03 L165.05,387.92 L165.34,387.8 L165.62,387.67 L165.9,387.54 L166.18,387.4 L166.46,387.26 L166.75,387.12 L167.03,386.98 L167.31,386.84 L167.59,386.7 L167.87,386.56 L168.16,386.42 L168.44,386.29 L168.72,386.17 L169,386.05 L169.28,385.94 L169.57,385.84 L169.85,385.75 L170.13,385.67 L170.41,385.6 L170.69,385.53 L170.98,385.47 L171.26,385.41 L171.54,385.34 L171.82,385.28 L172.1,385.22 L172.39,385.15 L172.67,385.09 L172.95,385.03 L173.23,384.97 L173.51,384.9 L173.8,384.84 L174.08,384.79 L174.36,384.73 L174.64,384.67 L174.92,384.62 L175.21,384.56 L175.49,384.51 L175.77,384.46 L176.05,384.41 L176.33,384.36 L176.62,384.31 L176.9,384.27 L177.18,384.23 L177.46,384.19 L177.74,384.15 L178.02,384.12 L178.31,384.09 L178.59,384.06 L178.87,384.03 L179.15,384.01 L179.43,383.99 L179.72,383.97 L180,383.96 L180.28,383.95 L180.56,383.94 L180.84,383.93 L181.13,383.93 L181.41,383.94 L181.69,383.95 L181.97,383.97 L182.25,384 L182.54,384.03 L182.82,384.07 L183.1,384.11 L183.38,384.15 L183.66,384.2 L183.95,384.25 L184.23,384.31 L184.51,384.37 L184.79,384.43 L185.07,384.49 L185.36,384.56 L185.64,384.62 L185.92,384.69 L186.2,384.76 L186.48,384.82 L186.77,384.89 L187.05,384.96 L187.33,385.02 L187.61,385.08 L187.89,385.15 L188.18,385.2 L188.46,385.26 L188.74,385.32 L189.02,385.37 L189.3,385.41 L189.59,385.45 L189.87,385.49 L190.15,385.52 L190.43,385.55 L190.71,385.57 L191,385.59 L191.28,385.6 L191.56,385.6 L191.84,385.6 L192.12,385.6 L192.41,385.6 L192.69,385.6 L192.97,385.6 L193.25,385.6 L193.53,385.6 L193.81,385.6 L194.1,385.6 L194.38,385.6 L194.66,385.6 L194.94,385.6 L195.22,385.6 L195.51,385.6 L195.79,385.6 L196.07,385.6 L196.35,385.6 L196.63,385.6 L196.92,385.6 L197.2,385.6 L197.48,385.6 L197.76,385.6 L198.04,385.6 L198.33,385.6 L198.61,385.6 L198.89,385.6 L199.17,385.6 L199.45,385.6 L199.74,385.6 L200.02,385.6 L200.3,385.6" fill="none" stroke="#0000ff" stroke-width="2.4" stroke-linejoin="round" stroke-linecap="round" />
<path d="M59.6,385.6 L59.88,385.6 L60.16,385.6 L60.45,385.6 L60.73,385.6 L61.01,385.6 L61.29,385.6 L61.57,385.6 L61.86,385.6 L62.14,385.6 L62.42,385.6 L62.7,385.6 L62.98,385.6 L63.27,385.6 L63.55,385.6 L63.83,385.6 L64.11,385.6 L64.39,385.6 L64.68,385.6 L64.96,385.6 L65.24,385.6 L65.52,385.6 L65.8,385.6 L66.09,385.6 L66.37,385.6 L66.65,385.6 L66.93,385.6 L67.21,385.6 L67.49,385.6 L67.78,385.6 L68.06,385.6 L68.34,385.6 L68.62,385.6 L68.9,385.6 L69.19,385.6 L69.47,385.6 L69.75,385.6 L70.03,385.6 L70.31,385.6 L70.6,385.6 L70.88,385.6 L71.16,385.6 L71.44,385.6 L71.72,385.6 L72.01,385.6 L72.29,385.6 L72.57,385.6 L72.85,385.6 L73.13,385.6 L73.42,385.6 L73.7,385.6 L73.98,385.6 L74.26,385.6 L74.54,385.6 L74.83,385.6 L75.11,385.6 L75.39,385.6 L75.67,385.6 L75.95,385.6 L76.24,385.6 L76.52,385.6 L76.8,385.6 L77.08,385.6 L77.36,385.6 L77.65,385.6 L77.93,385.6 L78.21,385.6 L78.49,385.6 L78.77,385.6 L79.06,385.6 L79.34,385.6 L79.62,385.6 L79.9,385.6 L80.18,385.6 L80.47,385.6 L80.75,385.6 L81.03,385.6 L81.31,385.6 L81.59,385.6 L81.88,385.6 L82.16,385.6 L82.44,385.6 L82.72,385.6 L83,385.6 L83.28,385.6 L83.57,385.6 L83.85,385.6 L84.13,385.6 L84.41,385.6 L84.69,385.6 L84.98,385.6 L85.26,385.6 L85.54,385.6 L85.82,385.6 L86.1,385.6 L86.39,385.6 L86.67,385.6 L86.95,385.6 L87.23,385.6 L87.51,385.6 L87.8,385.6 L88.08,385.6 L88.36,385.6 L88.64,385.6 L88.92,385.6 L89.21,385.6 L89.49,385.6 L89.77,385.6 L90.05,385.6 L90.33,385.6 L90.62,385.6 L90.9,385.6 L91.18,385.6 L91.46,385.6 L91.74,385.6 L92.03,385.6 L92.31,385.6 L92.59,385.59 L92.87,385.58 L93.15,385.56 L93.44,385.54 L93.72,385.51 L94,385.48 L94.28,385.45 L94.56,385.42 L94.85,385.38 L95.13,385.34 L95.41,385.3 L95.69,385.26 L95.97,385.21 L96.26,385.15 L96.54,385.05 L96.82,384.92 L97.1,384.75 L97.38,384.55 L97.67,384.32 L97.95,384.06 L98.23,383.78 L98.51,383.46 L98.79,383.13 L99.07,382.77 L99.36,382.39 L99.64,381.99 L99.92,381.57 L100.2,381.14 L100.48,380.7 L100.77,380.24 L101.05,379.78 L101.33,379.3 L101.61,378.82 L101.89,378.34 L102.18,377.85 L102.46,377.36 L102.74,376.86 L103.02,376.37 L103.3,375.89 L103.59,375.41 L103.87,374.93 L104.15,374.47 L104.43,374.01 L104.71,373.57 L105,373.14 L105.28,372.73 L105.56,372.33 L105.84,371.96 L106.12,371.6 L106.41,371.26 L106.69,370.95 L106.97,370.67 L107.25,370.41 L107.53,370.19 L107.82,369.99 L108.1,369.82 L108.38,369.69 L108.66,369.6 L108.94,369.54 L109.23,369.53 L109.51,369.64 L109.79,369.94 L110.07,370.41 L110.35,371.02 L110.64,371.77 L110.92,372.63 L111.2,373.6 L111.48,374.65 L111.76,375.78 L112.05,376.95 L112.33,378.16 L112.61,379.4 L112.89,380.63 L113.17,381.86 L113.46,383.05 L113.74,384.21 L114.02,385.3 L114.3,386.36 L114.58,387.49 L114.86,388.7 L115.15,389.98 L115.43,391.32 L115.71,392.72 L115.99,394.16 L116.27,395.66 L116.56,397.19 L116.84,398.75 L117.12,400.34 L117.4,401.94 L117.68,403.57 L117.97,405.2 L118.25,406.82 L118.53,408.45 L118.81,410.06 L119.09,411.66 L119.38,413.23 L119.66,414.78 L119.94,416.28 L120.22,417.75 L120.5,419.17 L120.79,420.53 L121.07,421.83 L121.35,423.07 L121.63,424.23 L121.91,425.31 L122.2,426.31 L122.48,427.22 L122.76,428.02 L123.04,428.73 L123.32,429.32 L123.61,429.8 L123.89,430.16 L124.17,430.39 L124.45,430.48 L124.73,430.4 L125.02,430.07 L125.3,429.52 L125.58,428.75 L125.86,427.79 L126.14,426.64 L126.43,425.33 L126.71,423.86 L126.99,422.26 L127.27,420.53 L127.55,418.7 L127.84,416.78 L128.12,414.78 L128.4,412.71 L128.68,410.6 L128.96,408.46 L129.25,406.31 L129.53,404.15 L129.81,402.01 L130.09,399.89 L130.37,397.82 L130.65,395.81 L130.94,393.87 L131.22,392.03 L131.5,390.28 L131.78,388.66 L132.06,387.17 L132.35,385.83 L132.63,384.6 L132.91,383.34 L133.19,382.06 L133.47,380.76 L133.76,379.44 L134.04,378.12 L134.32,376.79 L134.6,375.45 L134.88,374.12 L135.17,372.79 L135.45,371.47 L135.73,370.16 L136.01,368.87 L136.29,367.6 L136.58,366.35 L136.86,365.12 L137.14,363.93 L137.42,362.77 L137.7,361.65 L137.99,360.57 L138.27,359.53 L138.55,358.55 L138.83,357.61 L139.11,356.74 L139.4,355.92 L139.68,355.17 L139.96,354.49 L140.24,353.87 L140.52,353.34 L140.81,352.88 L141.09,352.5 L141.37,352.21 L141.65,352.01 L141.93,351.91 L142.22,351.89 L142.5,351.94 L142.78,352.04 L143.06,352.18 L143.34,352.37 L143.63,352.61 L143.91,352.89 L144.19,353.21 L144.47,353.57 L144.75,353.97 L145.04,354.4 L145.32,354.87 L145.6,355.38 L145.88,355.92 L146.16,356.48 L146.44,357.08 L146.73,357.7 L147.01,358.34 L147.29,359.01 L147.57,359.71 L147.85,360.42 L148.14,361.15 L148.42,361.89 L148.7,362.66 L148.98,363.43 L149.26,364.22 L149.55,365.02 L149.83,365.83 L150.11,366.64 L150.39,367.46 L150.67,368.28 L150.96,369.11 L151.24,369.94 L151.52,370.76 L151.8,371.58 L152.08,372.4 L152.37,373.21 L152.65,374.01 L152.93,374.81 L153.21,375.59 L153.49,376.36 L153.78,377.12 L154.06,377.86 L154.34,378.58 L154.62,379.28 L154.9,379.96 L155.19,380.62 L155.47,381.26 L155.75,381.87 L156.03,382.45 L156.31,383 L156.6,383.52 L156.88,384.01 L157.16,384.46 L157.44,384.88 L157.72,385.26 L158.01,385.61 L158.29,385.93 L158.57,386.26 L158.85,386.6 L159.13,386.93 L159.42,387.27 L159.7,387.6 L159.98,387.92 L160.26,388.24 L160.54,388.55 L160.83,388.85 L161.11,389.14 L161.39,389.41 L161.67,389.67 L161.95,389.91 L162.23,390.12 L162.52,390.32 L162.8,390.48 L163.08,390.63 L163.36,390.74 L163.64,390.82 L163.93,390.88 L164.21,390.89 L164.49,390.88 L164.77,390.83 L165.05,390.76 L165.34,390.66 L165.62,390.53 L165.9,390.39 L166.18,390.23 L166.46,390.04 L166.75,389.84 L167.03,389.63 L167.31,389.41 L167.59,389.17 L167.87,388.93 L168.16,388.68 L168.44,388.43 L168.72,388.17 L169,387.91 L169.28,387.66 L169.57,387.41 L169.85,387.16 L170.13,386.92 L170.41,386.69 L170.69,386.47 L170.98,386.26 L171.26,386.07 L171.54,385.89 L171.82,385.73 L172.1,385.6 L172.39,385.47 L172.67,385.34 L172.95,385.22 L173.23,385.09 L173.51,384.96 L173.8,384.83 L174.08,384.7 L174.36,384.57 L174.64,384.44 L174.92,384.31 L175.21,384.19 L175.49,384.07 L175.77,383.95 L176.05,383.83 L176.33,383.72 L176.62,383.61 L176.9,383.5 L177.18,383.4 L177.46,383.31 L177.74,383.22 L178.02,383.13 L178.31,383.05 L178.59,382.98 L178.87,382.91 L179.15,382.85 L179.43,382.8 L179.72,382.76 L180,382.72 L180.28,382.69 L180.56,382.67 L180.84,382.66 L181.13,382.66 L181.41,382.67 L181.69,382.68 L181.97,382.7 L182.25,382.73 L182.54,382.76 L182.82,382.8 L183.1,382.84 L183.38,382.89 L183.66,382.94 L183.95,383 L184.23,383.06 L184.51,383.12 L184.79,383.19 L185.07,383.26 L185.36,383.34 L185.64,383.41 L185.92,383.49 L186.2,383.58 L186.48,383.66 L186.77,383.75 L187.05,383.83 L187.33,383.92 L187.61,384.01 L187.89,384.1 L188.18,384.19 L188.46,384.27 L188.74,384.36 L189.02,384.45 L189.3,384.54 L189.59,384.62 L189.87,384.7 L190.15,384.79 L190.43,384.87 L190.71,384.94 L191,385.02 L191.28,385.09 L191.56,385.15 L191.84,385.22 L192.12,385.28 L192.41,385.33 L192.69,385.39 L192.97,385.43 L193.25,385.47 L193.53,385.51 L193.81,385.54 L194.1,385.56 L194.38,385.58 L194.66,385.59 L194.94,385.6 L195.22,385.6 L195.51,385.6 L195.79,385.6 L196.07,385.6 L196.35,385.6 L196.63,385.6 L196.92,385.6 L197.2,385.6 L197.48,385.6 L197.76,385.6 L198.04,385.6 L198.33,385.6 L198.61,385.6 L198.89,385.6 L199.17,385.6 L199.45,385.6 L199.74,385.6 L200.02,385.6 L200.3,385.6" fill="none" stroke="#ff0000" stroke-width="2.4" stroke-linejoin="round" stroke-linecap="round" />
<path d="M59.6,488.2 L59.88,488.2 L60.16,488.2 L60.45,488.2 L60.73,488.2 L61.01,488.2 L61.29,488.2 L61.57,488.2 L61.86,488.2 L62.14,488.2 L62.42,488.2 L62.7,488.2 L62.98,488.2 L63.27,488.2 L63.55,488.2 L63.83,488.2 L64.11,488.2 L64.39,488.2 L64.68,488.2 L64.96,488.2 L65.24,488.2 L65.52,488.2 L65.8,488.2 L66.09,488.2 L66.37,488.2 L66.65,488.2 L66.93,488.2 L67.21,488.2 L67.49,488.2 L67.78,488.2 L68.06,488.2 L68.34,488.2 L68.62,488.2 L68.9,488.2 L69.19,488.2 L69.47,488.2 L69.75,488.2 L70.03,488.2 L70.31,488.2 L70.6,488.2 L70.88,488.2 L71.16,488.2 L71.44,488.2 L71.72,488.2 L72.01,488.2 L72.29,488.2 L72.57,488.2 L72.85,488.2 L73.13,488.2 L73.42,488.2 L73.7,488.2 L73.98,488.2 L74.26,488.2 L74.54,488.2 L74.83,488.2 L75.11,488.2 L75.39,488.2 L75.67,488.2 L75.95,488.2 L76.24,488.2 L76.52,488.2 L76.8,488.2 L77.08,488.2 L77.36,488.2 L77.65,488.2 L77.93,488.2 L78.21,488.2 L78.49,488.2 L78.77,488.2 L79.06,488.2 L79.34,488.2 L79.62,488.2 L79.9,488.2 L80.18,488.2 L80.47,488.2 L80.75,488.2 L81.03,488.2 L81.31,488.2 L81.59,488.2 L81.88,488.2 L82.16,488.2 L82.44,488.2 L82.72,488.2 L83,488.2 L83.28,488.2 L83.57,488.2 L83.85,488.2 L84.13,488.2 L84.41,488.2 L84.69,488.2 L84.98,488.2 L85.26,488.2 L85.54,488.2 L85.82,488.2 L86.1,488.2 L86.39,488.2 L86.67,488.2 L86.95,488.2 L87.23,488.2 L87.51,488.2 L87.8,488.2 L88.08,488.2 L88.36,488.2 L88.64,488.2 L88.92,488.2 L89.21,488.2 L89.49,488.2 L89.77,488.2 L90.05,488.2 L90.33,488.2 L90.62,488.2 L90.9,488.2 L91.18,488.2 L91.46,488.2 L91.74,488.2 L92.03,488.2 L92.31,488.2 L92.59,488.2 L92.87,488.2 L93.15,488.2 L93.44,488.2 L93.72,488.2 L94,488.2 L94.28,488.2 L94.56,488.2 L94.85,488.2 L95.13,488.2 L95.41,488.2 L95.69,488.2 L95.97,488.2 L96.26,488.2 L96.54,488.2 L96.82,488.2 L97.1,488.2 L97.38,488.2 L97.67,488.19 L97.95,488.19 L98.23,488.18 L98.51,488.17 L98.79,488.16 L99.07,488.14 L99.36,488.13 L99.64,488.11 L99.92,488.1 L100.2,488.08 L100.48,488.06 L100.77,488.04 L101.05,488.02 L101.33,487.99 L101.61,487.93 L101.89,487.83 L102.18,487.7 L102.46,487.53 L102.74,487.33 L103.02,487.1 L103.3,486.84 L103.59,486.56 L103.87,486.24 L104.15,485.9 L104.43,485.54 L104.71,485.16 L105,484.76 L105.28,484.34 L105.56,483.91 L105.84,483.46 L106.12,483 L106.41,482.52 L106.69,482.04 L106.97,481.55 L107.25,481.05 L107.53,480.55 L107.82,480.05 L108.1,479.54 L108.38,479.04 L108.66,478.54 L108.94,478.04 L109.23,477.55 L109.51,477.06 L109.79,476.58 L110.07,476.11 L110.35,475.66 L110.64,475.22 L110.92,474.79 L111.2,474.38 L111.48,473.99 L111.76,473.62 L112.05,473.27 L112.33,472.94 L112.61,472.64 L112.89,472.37 L113.17,472.13 L113.46,471.91 L113.74,471.73 L114.02,471.58 L114.3,471.47 L114.58,471.39 L114.86,471.35 L115.15,471.37 L115.43,471.59 L115.71,472 L115.99,472.59 L116.27,473.33 L116.56,474.21 L116.84,475.21 L117.12,476.31 L117.4,477.5 L117.68,478.74 L117.97,480.03 L118.25,481.35 L118.53,482.67 L118.81,483.98 L119.09,485.26 L119.38,486.49 L119.66,487.65 L119.94,488.74 L120.22,489.9 L120.5,491.12 L120.79,492.41 L121.07,493.76 L121.35,495.16 L121.63,496.61 L121.91,498.1 L122.2,499.63 L122.48,501.18 L122.76,502.76 L123.04,504.36 L123.32,505.97 L123.61,507.58 L123.89,509.19 L124.17,510.8 L124.45,512.39 L124.73,513.97 L125.02,515.52 L125.3,517.04 L125.58,518.52 L125.86,519.96 L126.14,521.35 L126.43,522.68 L126.71,523.96 L126.99,525.16 L127.27,526.3 L127.55,527.35 L127.84,528.32 L128.12,529.2 L128.4,529.98 L128.68,530.66 L128.96,531.23 L129.25,531.69 L129.53,532.02 L129.81,532.23 L130.09,532.3 L130.37,532.22 L130.65,531.99 L130.94,531.61 L131.22,531.09 L131.5,530.43 L131.78,529.64 L132.06,528.74 L132.35,527.73 L132.63,526.61 L132.91,525.4 L133.19,524.1 L133.47,522.72 L133.76,521.26 L134.04,519.74 L134.32,518.17 L134.6,516.54 L134.88,514.87 L135.17,513.17 L135.45,511.44 L135.73,509.69 L136.01,507.93 L136.29,506.16 L136.58,504.4 L136.86,502.65 L137.14,500.92 L137.42,499.21 L137.7,497.54 L137.99,495.91 L138.27,494.33 L138.55,492.81 L138.83,491.35 L139.11,489.97 L139.4,488.66 L139.68,487.41 L139.96,486.11 L140.24,484.75 L140.52,483.35 L140.81,481.9 L141.09,480.42 L141.37,478.92 L141.65,477.4 L141.93,475.86 L142.22,474.33 L142.5,472.79 L142.78,471.27 L143.06,469.77 L143.34,468.29 L143.63,466.85 L143.91,465.44 L144.19,464.09 L144.47,462.79 L144.75,461.56 L145.04,460.39 L145.32,459.31 L145.6,458.31 L145.88,457.4 L146.16,456.6 L146.44,455.9 L146.73,455.32 L147.01,454.86 L147.29,454.53 L147.57,454.34 L147.85,454.29 L148.14,454.33 L148.42,454.42 L148.7,454.56 L148.98,454.76 L149.26,455 L149.55,455.28 L149.83,455.61 L150.11,455.98 L150.39,456.4 L150.67,456.85 L150.96,457.34 L151.24,457.86 L151.52,458.42 L151.8,459.01 L152.08,459.63 L152.37,460.27 L152.65,460.95 L152.93,461.65 L153.21,462.37 L153.49,463.11 L153.78,463.87 L154.06,464.65 L154.34,465.44 L154.62,466.25 L154.9,467.06 L155.19,467.89 L155.47,468.73 L155.75,469.57 L156.03,470.42 L156.31,471.27 L156.6,472.13 L156.88,472.98 L157.16,473.83 L157.44,474.67 L157.72,475.51 L158.01,476.34 L158.29,477.17 L158.57,477.98 L158.85,478.77 L159.13,479.56 L159.42,480.32 L159.7,481.07 L159.98,481.8 L160.26,482.5 L160.54,483.18 L160.83,483.84 L161.11,484.46 L161.39,485.06 L161.67,485.63 L161.95,486.16 L162.23,486.66 L162.52,487.12 L162.8,487.55 L163.08,487.93 L163.36,488.27 L163.64,488.61 L163.93,488.95 L164.21,489.29 L164.49,489.64 L164.77,489.98 L165.05,490.31 L165.34,490.64 L165.62,490.96 L165.9,491.26 L166.18,491.55 L166.46,491.83 L166.75,492.08 L167.03,492.31 L167.31,492.52 L167.59,492.7 L167.87,492.85 L168.16,492.96 L168.44,493.05 L168.72,493.09 L169,493.1 L169.28,493.08 L169.57,493.03 L169.85,492.97 L170.13,492.89 L170.41,492.78 L170.69,492.66 L170.98,492.53 L171.26,492.38 L171.54,492.22 L171.82,492.04 L172.1,491.86 L172.39,491.66 L172.67,491.46 L172.95,491.25 L173.23,491.04 L173.51,490.82 L173.8,490.61 L174.08,490.39 L174.36,490.17 L174.64,489.95 L174.92,489.74 L175.21,489.53 L175.49,489.32 L175.77,489.13 L176.05,488.94 L176.33,488.76 L176.62,488.59 L176.9,488.44 L177.18,488.3 L177.46,488.17 L177.74,488.05 L178.02,487.93 L178.31,487.8 L178.59,487.68 L178.87,487.55 L179.15,487.42 L179.43,487.29 L179.72,487.17 L180,487.04 L180.28,486.91 L180.56,486.78 L180.84,486.66 L181.13,486.53 L181.41,486.41 L181.69,486.29 L181.97,486.17 L182.25,486.05 L182.54,485.94 L182.82,485.83 L183.1,485.72 L183.38,485.61 L183.66,485.51 L183.95,485.42 L184.23,485.33 L184.51,485.24 L184.79,485.16 L185.07,485.08 L185.36,485.01 L185.64,484.95 L185.92,484.89 L186.2,484.83 L186.48,484.79 L186.77,484.75 L187.05,484.72 L187.33,484.7 L187.61,484.68 L187.89,484.67 L188.18,484.68 L188.46,484.69 L188.74,484.73 L189.02,484.77 L189.3,484.84 L189.59,484.91 L189.87,485 L190.15,485.09 L190.43,485.2 L190.71,485.31 L191,485.43 L191.28,485.56 L191.56,485.69 L191.84,485.83 L192.12,485.98 L192.41,486.12 L192.69,486.27 L192.97,486.42 L193.25,486.57 L193.53,486.72 L193.81,486.86 L194.1,487.01 L194.38,487.15 L194.66,487.28 L194.94,487.41 L195.22,487.54 L195.51,487.65 L195.79,487.76 L196.07,487.86 L196.35,487.94 L196.63,488.02 L196.92,488.08 L197.2,488.14 L197.48,488.17 L197.76,488.19 L198.04,488.2 L198.33,488.2 L198.61,488.2 L198.89,488.2 L199.17,488.2 L199.45,488.2 L199.74,488.2 L200.02,488.2 L200.3,488.2" fill="none" stroke="#0000ff" stroke-width="2.4" stroke-linejoin="round" stroke-linecap="round" />
<path d="M59.6,488.2 L59.88,488.2 L60.16,488.2 L60.45,488.2 L60.73,488.2 L61.01,488.2 L61.29,488.2 L61.57,488.2 L61.86,488.2 L62.14,488.2 L62.42,488.2 L62.7,488.2 L62.98,488.2 L63.27,488.2 L63.55,488.2 L63.83,488.2 L64.11,488.2 L64.39,488.2 L64.68,488.2 L64.96,488.2 L65.24,488.2 L65.52,488.2 L65.8,488.2 L66.09,488.2 L66.37,488.2 L66.65,488.2 L66.93,488.2 L67.21,488.2 L67.49,488.2 L67.78,488.2 L68.06,488.2 L68.34,488.2 L68.62,488.2 L68.9,488.2 L69.19,488.2 L69.47,488.2 L69.75,488.2 L70.03,488.2 L70.31,488.2 L70.6,488.2 L70.88,488.2 L71.16,488.2 L71.44,488.2 L71.72,488.2 L72.01,488.2 L72.29,488.2 L72.57,488.2 L72.85,488.2 L73.13,488.2 L73.42,488.2 L73.7,488.2 L73.98,488.2 L74.26,488.2 L74.54,488.2 L74.83,488.2 L75.11,488.2 L75.39,488.2 L75.67,488.2 L75.95,488.2 L76.24,488.2 L76.52,488.2 L76.8,488.2 L77.08,488.2 L77.36,488.2 L77.65,488.2 L77.93,488.2 L78.21,488.2 L78.49,488.2 L78.77,488.2 L79.06,488.2 L79.34,488.2 L79.62,488.2 L79.9,488.2 L80.18,488.2 L80.47,488.2 L80.75,488.2 L81.03,488.2 L81.31,488.2 L81.59,488.2 L81.88,488.2 L82.16,488.2 L82.44,488.2 L82.72,488.2 L83,488.2 L83.28,488.2 L83.57,488.2 L83.85,488.2 L84.13,488.2 L84.41,488.2 L84.69,488.2 L84.98,488.2 L85.26,488.2 L85.54,488.2 L85.82,488.2 L86.1,488.2 L86.39,488.2 L86.67,488.19 L86.95,488.18 L87.23,488.17 L87.51,488.16 L87.8,488.15 L88.08,488.13 L88.36,488.11 L88.64,488.09 L88.92,488.07 L89.21,488.05 L89.49,488.03 L89.77,488.01 L90.05,487.97 L90.33,487.9 L90.62,487.81 L90.9,487.68 L91.18,487.53 L91.46,487.36 L91.74,487.16 L92.03,486.93 L92.31,486.69 L92.59,486.42 L92.87,486.14 L93.15,485.84 L93.44,485.52 L93.72,485.19 L94,484.85 L94.28,484.49 L94.56,484.12 L94.85,483.74 L95.13,483.36 L95.41,482.97 L95.69,482.57 L95.97,482.17 L96.26,481.76 L96.54,481.36 L96.82,480.95 L97.1,480.55 L97.38,480.15 L97.67,479.75 L97.95,479.36 L98.23,478.97 L98.51,478.59 L98.79,478.23 L99.07,477.87 L99.36,477.52 L99.64,477.19 L99.92,476.87 L100.2,476.57 L100.48,476.29 L100.77,476.02 L101.05,475.77 L101.33,475.55 L101.61,475.35 L101.89,475.17 L102.18,475.02 L102.46,474.89 L102.74,474.79 L103.02,474.72 L103.3,474.68 L103.59,474.68 L103.87,474.78 L104.15,475 L104.43,475.33 L104.71,475.75 L105,476.26 L105.28,476.85 L105.56,477.52 L105.84,478.24 L106.12,479.02 L106.41,479.83 L106.69,480.68 L106.97,481.56 L107.25,482.44 L107.53,483.33 L107.82,484.22 L108.1,485.1 L108.38,485.95 L108.66,486.76 L108.94,487.54 L109.23,488.26 L109.51,488.99 L109.79,489.75 L110.07,490.54 L110.35,491.37 L110.64,492.22 L110.92,493.1 L111.2,494 L111.48,494.93 L111.76,495.87 L112.05,496.83 L112.33,497.8 L112.61,498.78 L112.89,499.76 L113.17,500.76 L113.46,501.75 L113.74,502.75 L114.02,503.74 L114.3,504.73 L114.58,505.7 L114.86,506.67 L115.15,507.63 L115.43,508.57 L115.71,509.49 L115.99,510.38 L116.27,511.26 L116.56,512.11 L116.84,512.93 L117.12,513.71 L117.4,514.47 L117.68,515.18 L117.97,515.86 L118.25,516.5 L118.53,517.08 L118.81,517.63 L119.09,518.12 L119.38,518.56 L119.66,518.94 L119.94,519.27 L120.22,519.54 L120.5,519.74 L120.79,519.88 L121.07,519.94 L121.35,519.94 L121.63,519.87 L121.91,519.73 L122.2,519.53 L122.48,519.27 L122.76,518.95 L123.04,518.57 L123.32,518.13 L123.61,517.65 L123.89,517.12 L124.17,516.54 L124.45,515.91 L124.73,515.25 L125.02,514.54 L125.3,513.8 L125.58,513.03 L125.86,512.22 L126.14,511.39 L126.43,510.53 L126.71,509.64 L126.99,508.74 L127.27,507.81 L127.55,506.87 L127.84,505.91 L128.12,504.95 L128.4,503.97 L128.68,502.99 L128.96,502 L129.25,501.02 L129.53,500.03 L129.81,499.05 L130.09,498.07 L130.37,497.11 L130.65,496.15 L130.94,495.21 L131.22,494.28 L131.5,493.38 L131.78,492.49 L132.06,491.63 L132.35,490.8 L132.63,489.99 L132.91,489.21 L133.19,488.47 L133.47,487.75 L133.76,487.01 L134.04,486.23 L134.32,485.43 L134.6,484.6 L134.88,483.75 L135.17,482.89 L135.45,482.01 L135.73,481.11 L136.01,480.21 L136.29,479.31 L136.58,478.4 L136.86,477.49 L137.14,476.58 L137.42,475.68 L137.7,474.79 L137.99,473.91 L138.27,473.04 L138.55,472.2 L138.83,471.37 L139.11,470.57 L139.4,469.8 L139.68,469.06 L139.96,468.35 L140.24,467.67 L140.52,467.04 L140.81,466.45 L141.09,465.9 L141.37,465.4 L141.65,464.95 L141.93,464.56 L142.22,464.22 L142.5,463.95 L142.78,463.74 L143.06,463.59 L143.34,463.52 L143.63,463.51 L143.91,463.53 L144.19,463.59 L144.47,463.68 L144.75,463.79 L145.04,463.93 L145.32,464.09 L145.6,464.28 L145.88,464.49 L146.16,464.72 L146.44,464.98 L146.73,465.26 L147.01,465.56 L147.29,465.87 L147.57,466.21 L147.85,466.57 L148.14,466.94 L148.42,467.32 L148.7,467.73 L148.98,468.14 L149.26,468.58 L149.55,469.02 L149.83,469.48 L150.11,469.94 L150.39,470.42 L150.67,470.91 L150.96,471.4 L151.24,471.9 L151.52,472.41 L151.8,472.93 L152.08,473.45 L152.37,473.98 L152.65,474.51 L152.93,475.04 L153.21,475.57 L153.49,476.11 L153.78,476.65 L154.06,477.18 L154.34,477.71 L154.62,478.24 L154.9,478.77 L155.19,479.3 L155.47,479.82 L155.75,480.33 L156.03,480.84 L156.31,481.34 L156.6,481.83 L156.88,482.31 L157.16,482.78 L157.44,483.24 L157.72,483.69 L158.01,484.13 L158.29,484.56 L158.57,484.97 L158.85,485.36 L159.13,485.74 L159.42,486.11 L159.7,486.45 L159.98,486.78 L160.26,487.09 L160.54,487.38 L160.83,487.65 L161.11,487.89 L161.39,488.12 L161.67,488.32 L161.95,488.53 L162.23,488.74 L162.52,488.95 L162.8,489.16 L163.08,489.37 L163.36,489.58 L163.64,489.78 L163.93,489.98 L164.21,490.17 L164.49,490.36 L164.77,490.53 L165.05,490.7 L165.34,490.85 L165.62,490.99 L165.9,491.12 L166.18,491.23 L166.46,491.33 L166.75,491.41 L167.03,491.47 L167.31,491.51 L167.59,491.53 L167.87,491.53 L168.16,491.51 L168.44,491.47 L168.72,491.41 L169,491.34 L169.28,491.25 L169.57,491.16 L169.85,491.05 L170.13,490.92 L170.41,490.79 L170.69,490.66 L170.98,490.51 L171.26,490.36 L171.54,490.2 L171.82,490.04 L172.1,489.88 L172.39,489.72 L172.67,489.56 L172.95,489.4 L173.23,489.24 L173.51,489.09 L173.8,488.94 L174.08,488.8 L174.36,488.67 L174.64,488.54 L174.92,488.43 L175.21,488.32 L175.49,488.23 L175.77,488.15 L176.05,488.07 L176.33,487.99 L176.62,487.91 L176.9,487.83 L177.18,487.75 L177.46,487.67 L177.74,487.59 L178.02,487.51 L178.31,487.43 L178.59,487.35 L178.87,487.27 L179.15,487.2 L179.43,487.12 L179.72,487.05 L180,486.97 L180.28,486.9 L180.56,486.83 L180.84,486.77 L181.13,486.7 L181.41,486.64 L181.69,486.57 L181.97,486.52 L182.25,486.46 L182.54,486.41 L182.82,486.36 L183.1,486.31 L183.38,486.27 L183.66,486.23 L183.95,486.19 L184.23,486.16 L184.51,486.13 L184.79,486.1 L185.07,486.08 L185.36,486.07 L185.64,486.05 L185.92,486.05 L186.2,486.04 L186.48,486.05 L186.77,486.06 L187.05,486.08 L187.33,486.11 L187.61,486.14 L187.89,486.19 L188.18,486.23 L188.46,486.29 L188.74,486.35 L189.02,486.41 L189.3,486.48 L189.59,486.55 L189.87,486.62 L190.15,486.7 L190.43,486.78 L190.71,486.86 L191,486.94 L191.28,487.03 L191.56,487.11 L191.84,487.19 L192.12,487.28 L192.41,487.36 L192.69,487.44 L192.97,487.52 L193.25,487.6 L193.53,487.68 L193.81,487.75 L194.1,487.82 L194.38,487.88 L194.66,487.94 L194.94,488 L195.22,488.04 L195.51,488.09 L195.79,488.12 L196.07,488.15 L196.35,488.18 L196.63,488.19 L196.92,488.2 L197.2,488.2 L197.48,488.2 L197.76,488.2 L198.04,488.2 L198.33,488.2 L198.61,488.2 L198.89,488.2 L199.17,488.2 L199.45,488.2 L199.74,488.2 L200.02,488.2 L200.3,488.2" fill="none" stroke="#ff0000" stroke-width="2.4" stroke-linejoin="round" stroke-linecap="round" />
<text x="94.3" y="363.0" font-size="13.2" fill="#0000ff"><tspan font-style="italic">L</tspan><tspan font-size="10.2" dy="4.5" letter-spacing="-0.5">21</tspan></text>
<text x="165.8" y="360.6" font-size="13.2" fill="#ff0000"><tspan font-style="italic">L</tspan><tspan font-size="10.2" dy="4.2" letter-spacing="-0.5">12</tspan></text>
<text x="65.9" y="552.5" font-size="13" text-anchor="middle" fill="#111" >2.8</text>
<text x="94.42" y="552.5" font-size="13" text-anchor="middle" fill="#111" >3.0</text>
<text x="122.94" y="552.5" font-size="13" text-anchor="middle" fill="#111" >3.2</text>
<text x="151.46" y="552.5" font-size="13" text-anchor="middle" fill="#111" >2.4</text>
<text x="179.98" y="552.5" font-size="13" text-anchor="middle" fill="#111" >3.6</text>
<text x="129.4" y="572.6" font-size="13.2" text-anchor="middle" fill="#111" >Frequency (GHz)</text>
<text transform="translate(25.1,396.9) rotate(-90)" font-size="13.2" fill="#111" text-anchor="middle">Im[&#916;<tspan font-style="italic">L</tspan><tspan font-style="italic" font-size="9.5" dy="2.5">nm</tspan><tspan dy="-2.5">] (pH)</tspan></text>
<text transform="translate(25.1,479.2) rotate(-90)" font-size="13.2" fill="#111" text-anchor="middle">Im[&#916;<tspan font-style="italic">L</tspan><tspan font-style="italic" font-size="9.5" dy="2.5">nm</tspan><tspan dy="-2.5">] (pH)</tspan></text>
<rect x="320.6" y="47.3" width="61.6" height="490.1" fill="#dce7f4" stroke="none" stroke-width="1" />
<rect x="485" y="47.3" width="61.6" height="490.1" fill="#dce7f4" stroke="none" stroke-width="1" />
<rect x="329.3" y="148.4" width="31.5" height="23.2" fill="#cde9fb" stroke="none" stroke-width="1" rx="3"/>
<rect x="329.3" y="257.7" width="31.5" height="23.3" fill="#cde9fb" stroke="none" stroke-width="1" rx="3"/>
<rect x="329.3" y="373.5" width="31.5" height="23.5" fill="#cde9fb" stroke="none" stroke-width="1" rx="3"/>
<rect x="329.3" y="503" width="31.5" height="23.6" fill="#cde9fb" stroke="none" stroke-width="1" rx="3"/>
<text x="273.9" y="33.3" font-size="13.6" text-anchor="start" fill="#111" >D-crystal</text>
<text x="392.5" y="34.4" font-size="13" fill="#111"><tspan font-style="italic">H</tspan></text>
<text x="415.5" y="34.4" font-size="13" fill="#111"><tspan font-style="italic">k</tspan></text>
<line x1="405.9" y1="25.2" x2="405.9" y2="34.4" stroke="#000" stroke-width="1.05" />
<line x1="408.1" y1="25.2" x2="408.1" y2="34.4" stroke="#000" stroke-width="1.05" />
<line x1="426.9" y1="25.2" x2="426.9" y2="34.4" stroke="#000" stroke-width="1.05" />
<line x1="429.2" y1="25.2" x2="429.2" y2="34.4" stroke="#000" stroke-width="1.05" />
<text x="435.8" y="34.4" font-size="13" text-anchor="start" fill="#111" >[001]</text>
<text x="501.5" y="34.4" font-size="13.6" text-anchor="start" fill="#111" >30 K</text>
<text x="330.3" y="70.9" font-size="13.6" text-anchor="start" fill="#111" >Ferro</text>
<text x="500.1" y="70.9" font-size="13.6" text-anchor="start" fill="#111" >Ferro</text>
<text x="431" y="70.9" font-size="13.6" text-anchor="middle" fill="#111" >Helical</text>
<line x1="320.6" y1="160.49" x2="327.1" y2="160.49" stroke="#5a5a5a" stroke-width="1.2" />
<line x1="546.6" y1="160.49" x2="540.1" y2="160.49" stroke="#5a5a5a" stroke-width="1.2" />
<line x1="320.6" y1="122.76" x2="327.1" y2="122.76" stroke="#5a5a5a" stroke-width="1.2" />
<line x1="546.6" y1="122.76" x2="540.1" y2="122.76" stroke="#5a5a5a" stroke-width="1.2" />
<line x1="320.6" y1="85.03" x2="327.1" y2="85.03" stroke="#5a5a5a" stroke-width="1.2" />
<line x1="546.6" y1="85.03" x2="540.1" y2="85.03" stroke="#5a5a5a" stroke-width="1.2" />
<line x1="320.6" y1="141.62" x2="324.1" y2="141.62" stroke="#5a5a5a" stroke-width="1.2" />
<line x1="546.6" y1="141.62" x2="543.1" y2="141.62" stroke="#5a5a5a" stroke-width="1.2" />
<line x1="320.6" y1="103.89" x2="324.1" y2="103.89" stroke="#5a5a5a" stroke-width="1.2" />
<line x1="546.6" y1="103.89" x2="543.1" y2="103.89" stroke="#5a5a5a" stroke-width="1.2" />
<line x1="320.6" y1="66.16" x2="324.1" y2="66.16" stroke="#5a5a5a" stroke-width="1.2" />
<line x1="546.6" y1="66.16" x2="543.1" y2="66.16" stroke="#5a5a5a" stroke-width="1.2" />
<text x="315.3" y="165.09" font-size="13" text-anchor="end" fill="#111" >3</text>
<text x="315.3" y="127.36" font-size="13" text-anchor="end" fill="#111" >4</text>
<text x="315.3" y="89.63" font-size="13" text-anchor="end" fill="#111" >5</text>
<text x="315.3" y="51.9" font-size="13" text-anchor="end" fill="#111" >6</text>
<line x1="320.6" y1="281.9" x2="327.1" y2="281.9" stroke="#5a5a5a" stroke-width="1.2" />
<line x1="546.6" y1="281.9" x2="540.1" y2="281.9" stroke="#5a5a5a" stroke-width="1.2" />
<line x1="320.6" y1="236.4" x2="327.1" y2="236.4" stroke="#5a5a5a" stroke-width="1.2" />
<line x1="546.6" y1="236.4" x2="540.1" y2="236.4" stroke="#5a5a5a" stroke-width="1.2" />
<line x1="320.6" y1="190.9" x2="327.1" y2="190.9" stroke="#5a5a5a" stroke-width="1.2" />
<line x1="546.6" y1="190.9" x2="540.1" y2="190.9" stroke="#5a5a5a" stroke-width="1.2" />
<line x1="320.6" y1="259.15" x2="324.1" y2="259.15" stroke="#5a5a5a" stroke-width="1.2" />
<line x1="546.6" y1="259.15" x2="543.1" y2="259.15" stroke="#5a5a5a" stroke-width="1.2" />
<line x1="320.6" y1="213.65" x2="324.1" y2="213.65" stroke="#5a5a5a" stroke-width="1.2" />
<line x1="546.6" y1="213.65" x2="543.1" y2="213.65" stroke="#5a5a5a" stroke-width="1.2" />
<line x1="320.6" y1="236.4" x2="546.6" y2="236.4" stroke="#666" stroke-width="1.1" stroke-dasharray="4,2.6"/>
<text x="315.3" y="195.5" font-size="13" text-anchor="end" fill="#111" >0.1</text>
<text x="315.3" y="241" font-size="13" text-anchor="end" fill="#111" >0</text>
<text x="315.3" y="286.5" font-size="13" text-anchor="end" fill="#111" >&#8722;0.1</text>
<line x1="320.6" y1="378.8" x2="327.1" y2="378.8" stroke="#5a5a5a" stroke-width="1.2" />
<line x1="546.6" y1="378.8" x2="540.1" y2="378.8" stroke="#5a5a5a" stroke-width="1.2" />
<line x1="320.6" y1="354.4" x2="327.1" y2="354.4" stroke="#5a5a5a" stroke-width="1.2" />
<line x1="546.6" y1="354.4" x2="540.1" y2="354.4" stroke="#5a5a5a" stroke-width="1.2" />
<line x1="320.6" y1="330" x2="327.1" y2="330" stroke="#5a5a5a" stroke-width="1.2" />
<line x1="546.6" y1="330" x2="540.1" y2="330" stroke="#5a5a5a" stroke-width="1.2" />
<line x1="320.6" y1="305.6" x2="327.1" y2="305.6" stroke="#5a5a5a" stroke-width="1.2" />
<line x1="546.6" y1="305.6" x2="540.1" y2="305.6" stroke="#5a5a5a" stroke-width="1.2" />
<line x1="320.6" y1="391" x2="324.1" y2="391" stroke="#5a5a5a" stroke-width="1.2" />
<line x1="546.6" y1="391" x2="543.1" y2="391" stroke="#5a5a5a" stroke-width="1.2" />
<line x1="320.6" y1="366.6" x2="324.1" y2="366.6" stroke="#5a5a5a" stroke-width="1.2" />
<line x1="546.6" y1="366.6" x2="543.1" y2="366.6" stroke="#5a5a5a" stroke-width="1.2" />
<line x1="320.6" y1="342.2" x2="324.1" y2="342.2" stroke="#5a5a5a" stroke-width="1.2" />
<line x1="546.6" y1="342.2" x2="543.1" y2="342.2" stroke="#5a5a5a" stroke-width="1.2" />
<line x1="320.6" y1="317.8" x2="324.1" y2="317.8" stroke="#5a5a5a" stroke-width="1.2" />
<line x1="546.6" y1="317.8" x2="543.1" y2="317.8" stroke="#5a5a5a" stroke-width="1.2" />
<text x="315.3" y="407.8" font-size="13" text-anchor="end" fill="#111" >0</text>
<text x="315.3" y="383.4" font-size="13" text-anchor="end" fill="#111" >1</text>
<text x="315.3" y="359" font-size="13" text-anchor="end" fill="#111" >2</text>
<text x="315.3" y="334.6" font-size="13" text-anchor="end" fill="#111" >3</text>
<text x="315.3" y="310.2" font-size="13" text-anchor="end" fill="#111" >4</text>
<line x1="320.6" y1="424.3" x2="327.1" y2="424.3" stroke="#5a5a5a" stroke-width="1.2" />
<line x1="546.6" y1="424.3" x2="540.1" y2="424.3" stroke="#5a5a5a" stroke-width="1.2" />
<line x1="320.6" y1="462" x2="327.1" y2="462" stroke="#5a5a5a" stroke-width="1.2" />
<line x1="546.6" y1="462" x2="540.1" y2="462" stroke="#5a5a5a" stroke-width="1.2" />
<line x1="320.6" y1="499.7" x2="327.1" y2="499.7" stroke="#5a5a5a" stroke-width="1.2" />
<line x1="546.6" y1="499.7" x2="540.1" y2="499.7" stroke="#5a5a5a" stroke-width="1.2" />
<line x1="320.6" y1="443.15" x2="324.1" y2="443.15" stroke="#5a5a5a" stroke-width="1.2" />
<line x1="546.6" y1="443.15" x2="543.1" y2="443.15" stroke="#5a5a5a" stroke-width="1.2" />
<line x1="320.6" y1="480.85" x2="324.1" y2="480.85" stroke="#5a5a5a" stroke-width="1.2" />
<line x1="546.6" y1="480.85" x2="543.1" y2="480.85" stroke="#5a5a5a" stroke-width="1.2" />
<line x1="320.6" y1="518.55" x2="324.1" y2="518.55" stroke="#5a5a5a" stroke-width="1.2" />
<line x1="546.6" y1="518.55" x2="543.1" y2="518.55" stroke="#5a5a5a" stroke-width="1.2" />
<text x="315.3" y="428.9" font-size="13" text-anchor="end" fill="#111" >&#8722;5</text>
<text x="315.3" y="466.6" font-size="13" text-anchor="end" fill="#111" >&#8722;6</text>
<text x="315.3" y="504.3" font-size="13" text-anchor="end" fill="#111" >&#8722;7</text>
<text x="315.3" y="542" font-size="13" text-anchor="end" fill="#111" >&#8722;8</text>
<line x1="346.6" y1="47.3" x2="346.6" y2="53.8" stroke="#5a5a5a" stroke-width="1.2" />
<line x1="346.6" y1="179.2" x2="346.6" y2="172.7" stroke="#5a5a5a" stroke-width="1.2" />
<line x1="433.6" y1="47.3" x2="433.6" y2="53.8" stroke="#5a5a5a" stroke-width="1.2" />
<line x1="433.6" y1="179.2" x2="433.6" y2="172.7" stroke="#5a5a5a" stroke-width="1.2" />
<line x1="520.6" y1="47.3" x2="520.6" y2="53.8" stroke="#5a5a5a" stroke-width="1.2" />
<line x1="520.6" y1="179.2" x2="520.6" y2="172.7" stroke="#5a5a5a" stroke-width="1.2" />
<line x1="390.1" y1="47.3" x2="390.1" y2="50.8" stroke="#5a5a5a" stroke-width="1.2" />
<line x1="390.1" y1="179.2" x2="390.1" y2="175.7" stroke="#5a5a5a" stroke-width="1.2" />
<line x1="477.1" y1="47.3" x2="477.1" y2="50.8" stroke="#5a5a5a" stroke-width="1.2" />
<line x1="477.1" y1="179.2" x2="477.1" y2="175.7" stroke="#5a5a5a" stroke-width="1.2" />
<rect x="320.6" y="47.3" width="226" height="131.9" fill="none" stroke="#2a3038" stroke-width="1.35" stroke-opacity="0.7" rx="1"/>
<line x1="346.6" y1="182" x2="346.6" y2="188.5" stroke="#5a5a5a" stroke-width="1.2" />
<line x1="346.6" y1="291.1" x2="346.6" y2="284.6" stroke="#5a5a5a" stroke-width="1.2" />
<line x1="433.6" y1="182" x2="433.6" y2="188.5" stroke="#5a5a5a" stroke-width="1.2" />
<line x1="433.6" y1="291.1" x2="433.6" y2="284.6" stroke="#5a5a5a" stroke-width="1.2" />
<line x1="520.6" y1="182" x2="520.6" y2="188.5" stroke="#5a5a5a" stroke-width="1.2" />
<line x1="520.6" y1="291.1" x2="520.6" y2="284.6" stroke="#5a5a5a" stroke-width="1.2" />
<line x1="390.1" y1="182" x2="390.1" y2="185.5" stroke="#5a5a5a" stroke-width="1.2" />
<line x1="390.1" y1="291.1" x2="390.1" y2="287.6" stroke="#5a5a5a" stroke-width="1.2" />
<line x1="477.1" y1="182" x2="477.1" y2="185.5" stroke="#5a5a5a" stroke-width="1.2" />
<line x1="477.1" y1="291.1" x2="477.1" y2="287.6" stroke="#5a5a5a" stroke-width="1.2" />
<rect x="320.6" y="182" width="226" height="109.1" fill="none" stroke="#2a3038" stroke-width="1.35" stroke-opacity="0.7" rx="1"/>
<line x1="346.6" y1="293.7" x2="346.6" y2="300.2" stroke="#5a5a5a" stroke-width="1.2" />
<line x1="346.6" y1="403.2" x2="346.6" y2="396.7" stroke="#5a5a5a" stroke-width="1.2" />
<line x1="433.6" y1="293.7" x2="433.6" y2="300.2" stroke="#5a5a5a" stroke-width="1.2" />
<line x1="433.6" y1="403.2" x2="433.6" y2="396.7" stroke="#5a5a5a" stroke-width="1.2" />
<line x1="520.6" y1="293.7" x2="520.6" y2="300.2" stroke="#5a5a5a" stroke-width="1.2" />
<line x1="520.6" y1="403.2" x2="520.6" y2="396.7" stroke="#5a5a5a" stroke-width="1.2" />
<line x1="390.1" y1="293.7" x2="390.1" y2="297.2" stroke="#5a5a5a" stroke-width="1.2" />
<line x1="390.1" y1="403.2" x2="390.1" y2="399.7" stroke="#5a5a5a" stroke-width="1.2" />
<line x1="477.1" y1="293.7" x2="477.1" y2="297.2" stroke="#5a5a5a" stroke-width="1.2" />
<line x1="477.1" y1="403.2" x2="477.1" y2="399.7" stroke="#5a5a5a" stroke-width="1.2" />
<rect x="320.6" y="293.7" width="226" height="109.5" fill="none" stroke="#2a3038" stroke-width="1.35" stroke-opacity="0.7" rx="1"/>
<line x1="346.6" y1="405.2" x2="346.6" y2="411.7" stroke="#5a5a5a" stroke-width="1.2" />
<line x1="346.6" y1="537.4" x2="346.6" y2="530.9" stroke="#5a5a5a" stroke-width="1.2" />
<line x1="433.6" y1="405.2" x2="433.6" y2="411.7" stroke="#5a5a5a" stroke-width="1.2" />
<line x1="433.6" y1="537.4" x2="433.6" y2="530.9" stroke="#5a5a5a" stroke-width="1.2" />
<line x1="520.6" y1="405.2" x2="520.6" y2="411.7" stroke="#5a5a5a" stroke-width="1.2" />
<line x1="520.6" y1="537.4" x2="520.6" y2="530.9" stroke="#5a5a5a" stroke-width="1.2" />
<line x1="390.1" y1="405.2" x2="390.1" y2="408.7" stroke="#5a5a5a" stroke-width="1.2" />
<line x1="390.1" y1="537.4" x2="390.1" y2="533.9" stroke="#5a5a5a" stroke-width="1.2" />
<line x1="477.1" y1="405.2" x2="477.1" y2="408.7" stroke="#5a5a5a" stroke-width="1.2" />
<line x1="477.1" y1="537.4" x2="477.1" y2="533.9" stroke="#5a5a5a" stroke-width="1.2" />
<rect x="320.6" y="405.2" width="226" height="132.2" fill="none" stroke="#2a3038" stroke-width="1.35" stroke-opacity="0.7" rx="1"/>
<text x="346.4" y="552.8" font-size="13" text-anchor="middle" fill="#111" >&#8722;1000</text>
<text x="433.6" y="552.8" font-size="13" text-anchor="middle" fill="#111" >0</text>
<text x="520.6" y="552.8" font-size="13" text-anchor="middle" fill="#111" >1000</text>
<text x="431.4" y="575" font-size="13.4" text-anchor="middle" fill="#111" >Magnetic field (Oe)</text>
<g>
<path d="M322.54,87.5 L331.76,99.9 L340.98,111.6 L350.2,124 L359.42,136.1 L368.65,148.5 L377.87,161.3 L387.09,129.6 L396.31,109.5 L405.53,97.8 L414.76,90.3 L423.98,86.1 L433.2,84.7 L442.42,85.9 L451.64,88.9 L460.87,96.4 L470.09,107.4 L479.31,126.1 L488.53,164.9 L497.75,152.9 L506.98,140.4 L516.2,128 L525.42,115.6 L534.64,103.9 L543.86,90.8" fill="none" stroke="#0000ff" stroke-width="1.1" stroke-linejoin="round" stroke-linecap="round" stroke-opacity="0.55"/>
<circle cx="322.54" cy="87.5" r="3.3" fill="#0000ff"/>
<circle cx="331.76" cy="99.9" r="3.3" fill="#0000ff"/>
<circle cx="340.98" cy="111.6" r="3.3" fill="#0000ff"/>
<circle cx="350.2" cy="124" r="3.3" fill="#0000ff"/>
<circle cx="359.42" cy="136.1" r="3.3" fill="#0000ff"/>
<circle cx="368.65" cy="148.5" r="3.3" fill="#0000ff"/>
<circle cx="377.87" cy="161.3" r="3.3" fill="#0000ff"/>
<circle cx="387.09" cy="129.6" r="3.3" fill="#0000ff"/>
<circle cx="396.31" cy="109.5" r="3.3" fill="#0000ff"/>
<circle cx="405.53" cy="97.8" r="3.3" fill="#0000ff"/>
<circle cx="414.76" cy="90.3" r="3.3" fill="#0000ff"/>
<circle cx="423.98" cy="86.1" r="3.3" fill="#0000ff"/>
<circle cx="433.2" cy="84.7" r="3.3" fill="#0000ff"/>
<circle cx="442.42" cy="85.9" r="3.3" fill="#0000ff"/>
<circle cx="451.64" cy="88.9" r="3.3" fill="#0000ff"/>
<circle cx="460.87" cy="96.4" r="3.3" fill="#0000ff"/>
<circle cx="470.09" cy="107.4" r="3.3" fill="#0000ff"/>
<circle cx="479.31" cy="126.1" r="3.3" fill="#0000ff"/>
<circle cx="488.53" cy="164.9" r="3.3" fill="#0000ff"/>
<circle cx="497.75" cy="152.9" r="3.3" fill="#0000ff"/>
<circle cx="506.98" cy="140.4" r="3.3" fill="#0000ff"/>
<circle cx="516.2" cy="128" r="3.3" fill="#0000ff"/>
<circle cx="525.42" cy="115.6" r="3.3" fill="#0000ff"/>
<circle cx="534.64" cy="103.9" r="3.3" fill="#0000ff"/>
<circle cx="543.86" cy="90.8" r="3.3" fill="#0000ff"/>
<path d="M322.54,89.4 L331.76,101.8 L340.98,113.9 L350.2,126.3 L359.42,139.1 L368.65,151.8 L377.87,164.6 L387.09,129.6 L396.31,109.5 L405.53,97.8 L414.76,90.3 L423.98,86.1 L433.2,84.7 L442.42,85.9 L451.64,88.9 L460.87,96.4 L470.09,107.4 L479.31,126.1 L488.53,163 L497.75,151.3 L506.98,138.5 L516.2,126.1 L525.42,113.5 L534.64,101.8 L543.86,89.4" fill="none" stroke="#ff0000" stroke-width="1.1" stroke-linejoin="round" stroke-linecap="round" stroke-opacity="0.7"/>
<circle cx="322.54" cy="89.4" r="3.45" fill="#ff0000"/>
<circle cx="331.76" cy="101.8" r="3.45" fill="#ff0000"/>
<circle cx="340.98" cy="113.9" r="3.45" fill="#ff0000"/>
<circle cx="350.2" cy="126.3" r="3.45" fill="#ff0000"/>
<circle cx="359.42" cy="139.1" r="3.45" fill="#ff0000"/>
<circle cx="368.65" cy="151.8" r="3.45" fill="#ff0000"/>
<circle cx="377.87" cy="164.6" r="3.45" fill="#ff0000"/>
<circle cx="387.09" cy="129.6" r="3.45" fill="#ff0000"/>
<circle cx="396.31" cy="109.5" r="3.45" fill="#ff0000"/>
<circle cx="405.53" cy="97.8" r="3.45" fill="#ff0000"/>
<circle cx="414.76" cy="90.3" r="3.45" fill="#ff0000"/>
<circle cx="423.98" cy="86.1" r="3.45" fill="#ff0000"/>
<circle cx="433.2" cy="84.7" r="3.45" fill="#ff0000"/>
<circle cx="442.42" cy="85.9" r="3.45" fill="#ff0000"/>
<circle cx="451.64" cy="88.9" r="3.45" fill="#ff0000"/>
<circle cx="460.87" cy="96.4" r="3.45" fill="#ff0000"/>
<circle cx="470.09" cy="107.4" r="3.45" fill="#ff0000"/>
<circle cx="479.31" cy="126.1" r="3.45" fill="#ff0000"/>
<circle cx="488.53" cy="163" r="3.45" fill="#ff0000"/>
<circle cx="497.75" cy="151.3" r="3.45" fill="#ff0000"/>
<circle cx="506.98" cy="138.5" r="3.45" fill="#ff0000"/>
<circle cx="516.2" cy="126.1" r="3.45" fill="#ff0000"/>
<circle cx="525.42" cy="113.5" r="3.45" fill="#ff0000"/>
<circle cx="534.64" cy="101.8" r="3.45" fill="#ff0000"/>
<circle cx="543.86" cy="89.4" r="3.45" fill="#ff0000"/>
<path d="M322.54,215.2 L331.76,209.5 L340.98,210.4 L350.2,207.5 L359.42,201.1 L368.65,200.1 L377.87,202.3 L387.09,232.3 L396.31,228.4 L405.53,233.1 L414.76,234.1 L423.98,235.1 L433.2,237 L442.42,236.9 L451.64,237.9 L460.87,237.9 L470.09,243.3 L479.31,237.9 L488.53,264.4 L497.75,267 L506.98,267.8 L516.2,257.8 L525.42,263.4 L534.64,255.2 L543.86,257.8" fill="none" stroke="#008000" stroke-width="1.1" stroke-linejoin="round" stroke-linecap="round" stroke-opacity="0.6"/>
<circle cx="322.54" cy="215.2" r="3.45" fill="#008000"/>
<circle cx="331.76" cy="209.5" r="3.45" fill="#008000"/>
<circle cx="340.98" cy="210.4" r="3.45" fill="#008000"/>
<circle cx="350.2" cy="207.5" r="3.45" fill="#008000"/>
<circle cx="359.42" cy="201.1" r="3.45" fill="#008000"/>
<circle cx="368.65" cy="200.1" r="3.45" fill="#008000"/>
<circle cx="377.87" cy="202.3" r="3.45" fill="#008000"/>
<circle cx="387.09" cy="232.3" r="3.45" fill="#008000"/>
<circle cx="396.31" cy="228.4" r="3.45" fill="#008000"/>
<circle cx="405.53" cy="233.1" r="3.45" fill="#008000"/>
<circle cx="414.76" cy="234.1" r="3.45" fill="#008000"/>
<circle cx="423.98" cy="235.1" r="3.45" fill="#008000"/>
<circle cx="433.2" cy="237" r="3.45" fill="#008000"/>
<circle cx="442.42" cy="236.9" r="3.45" fill="#008000"/>
<circle cx="451.64" cy="237.9" r="3.45" fill="#008000"/>
<circle cx="460.87" cy="237.9" r="3.45" fill="#008000"/>
<circle cx="470.09" cy="243.3" r="3.45" fill="#008000"/>
<circle cx="479.31" cy="237.9" r="3.45" fill="#008000"/>
<circle cx="488.53" cy="264.4" r="3.45" fill="#008000"/>
<circle cx="497.75" cy="267" r="3.45" fill="#008000"/>
<circle cx="506.98" cy="267.8" r="3.45" fill="#008000"/>
<circle cx="516.2" cy="257.8" r="3.45" fill="#008000"/>
<circle cx="525.42" cy="263.4" r="3.45" fill="#008000"/>
<circle cx="534.64" cy="255.2" r="3.45" fill="#008000"/>
<circle cx="543.86" cy="257.8" r="3.45" fill="#008000"/>
<path d="M322.54,340.6 L331.76,340.6 L340.98,340.6 L350.2,341.2 L359.42,342.3 L368.65,343.7 L377.87,345.3 L387.09,368 L396.31,351.3 L405.53,341.8 L414.76,331.8 L423.98,319.9 L433.2,315.3 L442.42,318.5 L451.64,330.4 L460.87,340.8 L470.09,348.5 L479.31,364.2 L488.53,369.6 L497.75,361.7 L506.98,355.7 L516.2,351.3 L525.42,349.1 L534.64,347.5 L543.86,346.7" fill="none" stroke="#0000ff" stroke-width="1.1" stroke-linejoin="round" stroke-linecap="round" stroke-opacity="0.55"/>
<circle cx="322.54" cy="340.6" r="3.3" fill="#0000ff"/>
<circle cx="331.76" cy="340.6" r="3.3" fill="#0000ff"/>
<circle cx="340.98" cy="340.6" r="3.3" fill="#0000ff"/>
<circle cx="350.2" cy="341.2" r="3.3" fill="#0000ff"/>
<circle cx="359.42" cy="342.3" r="3.3" fill="#0000ff"/>
<circle cx="368.65" cy="343.7" r="3.3" fill="#0000ff"/>
<circle cx="377.87" cy="345.3" r="3.3" fill="#0000ff"/>
<circle cx="387.09" cy="368" r="3.3" fill="#0000ff"/>
<circle cx="396.31" cy="351.3" r="3.3" fill="#0000ff"/>
<circle cx="405.53" cy="341.8" r="3.3" fill="#0000ff"/>
<circle cx="414.76" cy="331.8" r="3.3" fill="#0000ff"/>
<circle cx="423.98" cy="319.9" r="3.3" fill="#0000ff"/>
<circle cx="433.2" cy="315.3" r="3.3" fill="#0000ff"/>
<circle cx="442.42" cy="318.5" r="3.3" fill="#0000ff"/>
<circle cx="451.64" cy="330.4" r="3.3" fill="#0000ff"/>
<circle cx="460.87" cy="340.8" r="3.3" fill="#0000ff"/>
<circle cx="470.09" cy="348.5" r="3.3" fill="#0000ff"/>
<circle cx="479.31" cy="364.2" r="3.3" fill="#0000ff"/>
<circle cx="488.53" cy="369.6" r="3.3" fill="#0000ff"/>
<circle cx="497.75" cy="361.7" r="3.3" fill="#0000ff"/>
<circle cx="506.98" cy="355.7" r="3.3" fill="#0000ff"/>
<circle cx="516.2" cy="351.3" r="3.3" fill="#0000ff"/>
<circle cx="525.42" cy="349.1" r="3.3" fill="#0000ff"/>
<circle cx="534.64" cy="347.5" r="3.3" fill="#0000ff"/>
<circle cx="543.86" cy="346.7" r="3.3" fill="#0000ff"/>
<path d="M322.54,346.7 L331.76,347.7 L340.98,349.3 L350.2,351.3 L359.42,355.3 L368.65,361.1 L377.87,369 L387.09,368 L396.31,351.3 L405.53,341.8 L414.76,331.8 L423.98,319.9 L433.2,315.3 L442.42,318.5 L451.64,330.4 L460.87,340.8 L470.09,349.7 L479.31,366 L488.53,343.7 L497.75,344.1 L506.98,342.7 L516.2,341.4 L525.42,341 L534.64,341 L543.86,341" fill="none" stroke="#ff0000" stroke-width="1.1" stroke-linejoin="round" stroke-linecap="round" stroke-opacity="0.7"/>
<circle cx="322.54" cy="346.7" r="3.45" fill="#ff0000"/>
<circle cx="331.76" cy="347.7" r="3.45" fill="#ff0000"/>
<circle cx="340.98" cy="349.3" r="3.45" fill="#ff0000"/>
<circle cx="350.2" cy="351.3" r="3.45" fill="#ff0000"/>
<circle cx="359.42" cy="355.3" r="3.45" fill="#ff0000"/>
<circle cx="368.65" cy="361.1" r="3.45" fill="#ff0000"/>
<circle cx="377.87" cy="369" r="3.45" fill="#ff0000"/>
<circle cx="387.09" cy="368" r="3.45" fill="#ff0000"/>
<circle cx="396.31" cy="351.3" r="3.45" fill="#ff0000"/>
<circle cx="405.53" cy="341.8" r="3.45" fill="#ff0000"/>
<circle cx="414.76" cy="331.8" r="3.45" fill="#ff0000"/>
<circle cx="423.98" cy="319.9" r="3.45" fill="#ff0000"/>
<circle cx="433.2" cy="315.3" r="3.45" fill="#ff0000"/>
<circle cx="442.42" cy="318.5" r="3.45" fill="#ff0000"/>
<circle cx="451.64" cy="330.4" r="3.45" fill="#ff0000"/>
<circle cx="460.87" cy="340.8" r="3.45" fill="#ff0000"/>
<circle cx="470.09" cy="349.7" r="3.45" fill="#ff0000"/>
<circle cx="479.31" cy="366" r="3.45" fill="#ff0000"/>
<circle cx="488.53" cy="343.7" r="3.45" fill="#ff0000"/>
<circle cx="497.75" cy="344.1" r="3.45" fill="#ff0000"/>
<circle cx="506.98" cy="342.7" r="3.45" fill="#ff0000"/>
<circle cx="516.2" cy="341.4" r="3.45" fill="#ff0000"/>
<circle cx="525.42" cy="341" r="3.45" fill="#ff0000"/>
<circle cx="534.64" cy="341" r="3.45" fill="#ff0000"/>
<circle cx="543.86" cy="341" r="3.45" fill="#ff0000"/>
<path d="M322.54,462.3 L331.76,462.3 L340.98,461.9 L350.2,456.1 L359.42,455.7 L368.65,448.4 L377.87,437.8 L387.09,472.7 L396.31,451.2 L405.53,442.8 L414.76,438.2 L423.98,432.9 L433.2,429.6 L442.42,430.5 L451.64,442.2 L460.87,448.2 L470.09,445.8 L479.31,465.3 L488.53,506.9 L497.75,487.6 L506.98,477.2 L516.2,477 L525.42,472.3 L534.64,475.2 L543.86,476.2" fill="none" stroke="#0000ff" stroke-width="1.1" stroke-linejoin="round" stroke-linecap="round" stroke-opacity="0.55"/>
<circle cx="322.54" cy="462.3" r="3.3" fill="#0000ff"/>
<circle cx="331.76" cy="462.3" r="3.3" fill="#0000ff"/>
<circle cx="340.98" cy="461.9" r="3.3" fill="#0000ff"/>
<circle cx="350.2" cy="456.1" r="3.3" fill="#0000ff"/>
<circle cx="359.42" cy="455.7" r="3.3" fill="#0000ff"/>
<circle cx="368.65" cy="448.4" r="3.3" fill="#0000ff"/>
<circle cx="377.87" cy="437.8" r="3.3" fill="#0000ff"/>
<circle cx="387.09" cy="472.7" r="3.3" fill="#0000ff"/>
<circle cx="396.31" cy="451.2" r="3.3" fill="#0000ff"/>
<circle cx="405.53" cy="442.8" r="3.3" fill="#0000ff"/>
<circle cx="414.76" cy="438.2" r="3.3" fill="#0000ff"/>
<circle cx="423.98" cy="432.9" r="3.3" fill="#0000ff"/>
<circle cx="433.2" cy="429.6" r="3.3" fill="#0000ff"/>
<circle cx="442.42" cy="430.5" r="3.3" fill="#0000ff"/>
<circle cx="451.64" cy="442.2" r="3.3" fill="#0000ff"/>
<circle cx="460.87" cy="448.2" r="3.3" fill="#0000ff"/>
<circle cx="470.09" cy="445.8" r="3.3" fill="#0000ff"/>
<circle cx="479.31" cy="465.3" r="3.3" fill="#0000ff"/>
<circle cx="488.53" cy="506.9" r="3.3" fill="#0000ff"/>
<circle cx="497.75" cy="487.6" r="3.3" fill="#0000ff"/>
<circle cx="506.98" cy="477.2" r="3.3" fill="#0000ff"/>
<circle cx="516.2" cy="477" r="3.3" fill="#0000ff"/>
<circle cx="525.42" cy="472.3" r="3.3" fill="#0000ff"/>
<circle cx="534.64" cy="475.2" r="3.3" fill="#0000ff"/>
<circle cx="543.86" cy="476.2" r="3.3" fill="#0000ff"/>
<path d="M322.54,476.6 L331.76,474 L340.98,473.3 L350.2,473.9 L359.42,473.9 L368.65,477.6 L377.87,496.9 L387.09,468.9 L396.31,449.8 L405.53,446.8 L414.76,440.8 L423.98,434.8 L433.2,429.3 L442.42,428.3 L451.64,439.2 L460.87,442.4 L470.09,449.4 L479.31,464.1 L488.53,439.4 L497.75,445.4 L506.98,453.4 L516.2,450.8 L525.42,458.1 L534.64,458.1 L543.86,467.3" fill="none" stroke="#ff0000" stroke-width="1.1" stroke-linejoin="round" stroke-linecap="round" stroke-opacity="0.7"/>
<circle cx="322.54" cy="476.6" r="3.45" fill="#ff0000"/>
<circle cx="331.76" cy="474" r="3.45" fill="#ff0000"/>
<circle cx="340.98" cy="473.3" r="3.45" fill="#ff0000"/>
<circle cx="350.2" cy="473.9" r="3.45" fill="#ff0000"/>
<circle cx="359.42" cy="473.9" r="3.45" fill="#ff0000"/>
<circle cx="368.65" cy="477.6" r="3.45" fill="#ff0000"/>
<circle cx="377.87" cy="496.9" r="3.45" fill="#ff0000"/>
<circle cx="387.09" cy="468.9" r="3.45" fill="#ff0000"/>
<circle cx="396.31" cy="449.8" r="3.45" fill="#ff0000"/>
<circle cx="405.53" cy="446.8" r="3.45" fill="#ff0000"/>
<circle cx="414.76" cy="440.8" r="3.45" fill="#ff0000"/>
<circle cx="423.98" cy="434.8" r="3.45" fill="#ff0000"/>
<circle cx="433.2" cy="429.3" r="3.45" fill="#ff0000"/>
<circle cx="442.42" cy="428.3" r="3.45" fill="#ff0000"/>
<circle cx="451.64" cy="439.2" r="3.45" fill="#ff0000"/>
<circle cx="460.87" cy="442.4" r="3.45" fill="#ff0000"/>
<circle cx="470.09" cy="449.4" r="3.45" fill="#ff0000"/>
<circle cx="479.31" cy="464.1" r="3.45" fill="#ff0000"/>
<circle cx="488.53" cy="439.4" r="3.45" fill="#ff0000"/>
<circle cx="497.75" cy="445.4" r="3.45" fill="#ff0000"/>
<circle cx="506.98" cy="453.4" r="3.45" fill="#ff0000"/>
<circle cx="516.2" cy="450.8" r="3.45" fill="#ff0000"/>
<circle cx="525.42" cy="458.1" r="3.45" fill="#ff0000"/>
<circle cx="534.64" cy="458.1" r="3.45" fill="#ff0000"/>
<circle cx="543.86" cy="467.3" r="3.45" fill="#ff0000"/>
</g>
<text x="493.5" y="114.2" font-size="14" fill="#ff0000"><tspan font-style="italic">L</tspan><tspan font-size="10.2" dy="3.2" letter-spacing="-0.5">12</tspan></text>
<text x="515" y="156" font-size="14" fill="#0000ff"><tspan font-style="italic">L</tspan><tspan font-size="10.2" dy="3.2" letter-spacing="-0.5">21</tspan></text>
<text x="514.5" y="325.5" font-size="14" fill="#ff0000"><tspan font-style="italic">L</tspan><tspan font-size="10.2" dy="3.2" letter-spacing="-0.5">12</tspan></text>
<text x="514.5" y="378.5" font-size="14" fill="#0000ff"><tspan font-style="italic">L</tspan><tspan font-size="10.2" dy="3.2" letter-spacing="-0.5">21</tspan></text>
<text x="511.5" y="437.8" font-size="14" fill="#ff0000"><tspan font-style="italic">L</tspan><tspan font-size="10.2" dy="3.2" letter-spacing="-0.5">12</tspan></text>
<text x="513.5" y="509" font-size="14" fill="#0000ff"><tspan font-style="italic">L</tspan><tspan font-size="10.2" dy="3.2" letter-spacing="-0.5">21</tspan></text>
<text transform="translate(277.6,137.6) rotate(-90)" font-size="13.1" fill="#111"><tspan font-family="Liberation Serif" font-style="italic" font-size="11.5">&#957;</tspan><tspan font-size="9.5" font-style="italic" dy="2.5">p</tspan><tspan dy="-2.5" dx="-0.5"> (GHz)</tspan></text>
<text transform="translate(277.6,264.2) rotate(-90)" font-size="13.1" fill="#111"><tspan font-size="12.5" font-style="italic">&#916;</tspan><tspan font-family="Liberation Serif" font-style="italic" font-size="11.5">&#957;</tspan><tspan font-size="9.5" font-style="italic" dy="2.5">p</tspan><tspan dy="-2.5" dx="-0.5"> (GHz)</tspan></text>
<text transform="translate(278.6,387.0) rotate(-90)" font-size="13" fill="#111">|&#916;<tspan font-style="italic">L</tspan><tspan font-size="9.5" font-style="italic" dy="-5.5" dx="0.5">p</tspan><tspan font-size="9.5" font-style="italic" dx="-5.5" dy="8">nm</tspan><tspan dy="-2.5"> |(pH)</tspan></text>
<text transform="translate(277.6,506) rotate(-90)" font-size="13.5" fill="#111"><tspan font-family="Liberation Serif" font-style="italic" font-size="13">&#965;</tspan><tspan font-size="10.5" font-style="italic" dy="-6.3">p</tspan><tspan font-size="10.5" font-style="italic" dx="-5.8" dy="9.8">g</tspan><tspan dy="-3.5" dx="1">(km/s)</tspan></text>
<text x="575.5" y="125.8" font-size="13.6" text-anchor="start" fill="#111" >Ferro</text>
<line x1="590.4" y1="140" x2="590.4" y2="161.9" stroke="#e2260e" stroke-width="2.8" />
<path d="M590.4,131.8 L585.1,141.8 L590.4,140.5 L595.7,141.8 Z" fill="#e2260e"/>
<line x1="589.8" y1="175.9" x2="589.8" y2="197.6" stroke="#e2260e" stroke-width="2.8" />
<path d="M589.8,167.7 L584.5,177.7 L589.8,176.4 L595.1,177.7 Z" fill="#e2260e"/>
<line x1="589.3" y1="212.3" x2="589.3" y2="233.5" stroke="#e2260e" stroke-width="2.8" />
<path d="M589.3,204.1 L584,214.1 L589.3,212.8 L594.6,214.1 Z" fill="#e2260e"/>
<text x="629.8" y="139" font-size="13" fill="#111" font-style="italic">&#8722;k</text>
<text x="669.3" y="139" font-size="13" fill="#111" font-style="italic">+k</text>
<line x1="637.2" y1="212.5" x2="637.2" y2="145.9" stroke="#000" stroke-width="3.1" />
<path d="M637.2,224.9 L630.45,212 L637.2,212 L643.95,212 Z" fill="#000"/>
<path d="M676.8,146.5 L670.2,159 L683.4,159 Z" fill="#000"/>
<rect x="674.85" y="158.5" width="3.9" height="4.9" fill="#000" stroke="none" stroke-width="1" />
<rect x="674.85" y="169.6" width="3.9" height="5.4" fill="#000" stroke="none" stroke-width="1" />
<rect x="674.85" y="181.3" width="3.9" height="5.4" fill="#000" stroke="none" stroke-width="1" />
<rect x="674.85" y="193" width="3.9" height="5.4" fill="#000" stroke="none" stroke-width="1" />
<rect x="674.85" y="204.6" width="3.9" height="5.8" fill="#000" stroke="none" stroke-width="1" />
<rect x="674.85" y="217.9" width="3.9" height="7" fill="#000" stroke="none" stroke-width="1" />
<text x="650" y="187.4" font-size="23.5" text-anchor="start" fill="#111" >&#8800;</text>
<path d="M602.3,245.3 L590.6,259.5 L598.3,259.5 L598.3,269.2 L606.5,269.2 L606.5,259.5 L614.2,259.5 Z" fill="#f8b4ae" stroke="#f04a36" stroke-width="2" stroke-linejoin="miter"/>
<text x="574.3" y="262.8" font-size="13" fill="#f04a36" font-style="italic">H</text>
<text x="571.2" y="370.9" font-size="13.6" text-anchor="start" fill="#111" >Helical</text>
<text x="629.8" y="388.6" font-size="13" fill="#111" font-style="italic">&#8722;k</text>
<text x="669.8" y="388.6" font-size="13" fill="#111" font-style="italic">+k</text>
<ellipse cx="590.2" cy="398.3" rx="28.7" ry="8.55" fill="none" stroke="#777" stroke-width="1.55"/>
<ellipse cx="590.2" cy="433.9" rx="28.7" ry="8.55" fill="none" stroke="#777" stroke-width="1.55"/>
<ellipse cx="590.2" cy="469.1" rx="28.7" ry="8.55" fill="none" stroke="#777" stroke-width="1.55"/>
<line x1="589.2" y1="399.7" x2="607.33" y2="398" stroke="#ff3a1a" stroke-width="2.9" />
<path d="M614.8,397.3 L605.31,403.21 L607.03,398.03 L604.38,393.26 Z" fill="#ff3a1a"/>
<line x1="587.2" y1="436.8" x2="597.84" y2="430.17" stroke="#ff3a1a" stroke-width="2.9" />
<path d="M604.2,426.2 L598.36,435.73 L597.58,430.33 L593.07,427.25 Z" fill="#ff3a1a"/>
<line x1="596.5" y1="470.8" x2="582.96" y2="466.55" stroke="#ff3a1a" stroke-width="2.9" />
<path d="M575.8,464.3 L586.84,462.53 L583.24,466.64 L583.84,472.07 Z" fill="#ff3a1a"/>
<line x1="638.4" y1="463.5" x2="638.4" y2="396.5" stroke="#000" stroke-width="3.4" />
<path d="M638.4,475.8 L631.6,463 L638.4,463 L645.2,463 Z" fill="#000"/>
<line x1="676.3" y1="409.4" x2="676.3" y2="476.3" stroke="#000" stroke-width="3.6" />
<path d="M676.3,397.8 L669.8,409.9 L676.3,409.9 L682.8,409.9 Z" fill="#000"/>
<text x="650" y="439.3" font-size="23.5" text-anchor="start" fill="#111" >=</text>
</svg>
</body></html>
